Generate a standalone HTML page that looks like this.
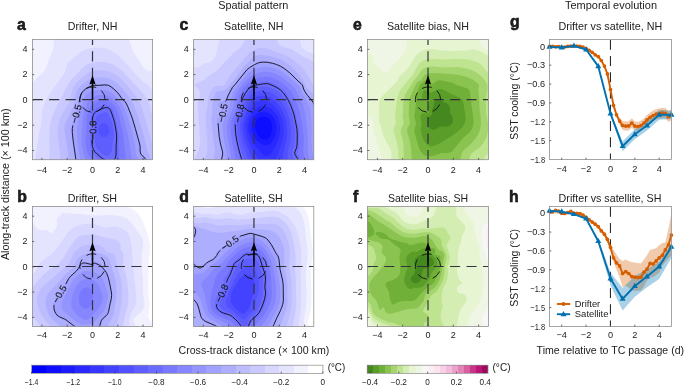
<!DOCTYPE html>
<html lang="en"><head><meta charset="utf-8"><title>SST cooling: spatial pattern and temporal evolution</title>
<style>html,body{margin:0;padding:0;background:#fff}svg{display:block}text{font-family:'Liberation Sans', sans-serif;fill:#222}</style></head>
<body><svg width="685" height="385" viewBox="0 0 685 385">
<rect width="685" height="385" fill="#fff"/>
<g id="panel-a">
<clipPath id="clip_a"><rect x="32.4" y="39.5" width="120.2" height="120.2"/></clipPath>
<g clip-path="url(#clip_a)">
<rect x="32.4" y="39.5" width="120.2" height="120.2" fill="#f2f2ff"/>
<path d="M31.1,161L153.9,161L153.9,70.9L152.6,70.5L148.7,70.8L147.4,70.6L146.1,69.9L145.3,69.2L143.5,67.2L135.8,55.7L133.8,52.5L132,48.6L129.8,42.1L128.2,38.2L54.8,38.2L53.9,40.8L53.1,48.6L52.5,51.2L51.5,53.7L49.1,58.9L46.6,66.3L45.4,69.2L44.4,70.5L42.8,72.4L36.3,78.4L31.1,84.6Z" fill="#e4e4ff"/>
<path d="M34.9,161L153.9,161L153.9,91.4L150,87.1L140.9,79.5L137.1,75.8L126.7,63.9L121.6,58.4L116.4,53.9L112.5,51.4L109.9,50.1L106.1,48.7L102.2,47.9L98.3,47.6L93.1,47.8L89.3,48.4L85.4,49.4L82.8,50.7L80.2,52.3L75,56.3L71.2,59.8L68.4,62.8L67.5,64.1L67,65.4L65.6,70.5L64.6,73.1L62,77L52.3,89.9L49.6,93.8L47.3,97.7L44.7,102.8L43.3,106.7L42.1,111.9L41.6,115.7L41,124.8L38.3,137.7Z" fill="#d7d7ff"/>
<path d="M49.3,161L153.9,161L153.9,123.4L151.1,110.6L149.3,104.1L147.6,100.2L146.1,97.7L144.4,95.1L141.2,91.2L125.4,74.2L121.6,70.5L119,68.4L115.1,65.7L112.5,64.4L108.6,62.9L104.8,62L102.2,61.8L98.3,61.9L95.7,62.3L89.3,63.8L86.7,64.8L84,66.7L81.5,69.1L77.8,73.1L73.8,77L70.5,80.9L67.2,86L62.9,95.1L59.8,100.2L56.5,106.7L53.5,113.2L51.3,119.6L50.2,124.8L49.6,131.2L49.5,137.7L49.7,151.9Z" fill="#c9c9ff"/>
<path d="M60.2,161L153.9,161L153.9,151.9L150.5,137.7L144.4,115.7L142.4,109.3L140.4,104.1L138.5,100.2L136.9,97.7L134.1,93.8L130.9,89.9L125.3,83.5L121.6,79.6L118.7,77L115.1,74.4L112.5,72.9L109.9,71.8L107.4,71L104.8,70.5L102.2,70.3L98.3,70.2L93.1,71L89.3,72.5L86.7,74L84.1,75.9L80.2,79.2L77.6,81.7L76.1,83.5L74.2,86L72.8,88.6L71.8,91.2L69.9,100.6L67.3,105.8L62.8,113.2L60.7,117L59.2,120.9L58.6,123.5L57.8,128.7L57.8,132.5L58.2,137.7L59.8,150.6L60.1,155.8Z" fill="#bcbcff"/>
<path d="M68.6,159.7L68.6,161L151.4,161L150,156.7L148,151.9L147.1,149.3L144.8,139L138.6,118.3L135.4,109.3L132.7,102.8L131.2,100.2L129.5,97.7L120.9,87.3L116.4,82.8L112.5,80L108.6,78.4L104.8,77.6L98.3,77.4L95.7,77.6L93.1,78.1L89.3,79.5L86.7,80.9L84.1,82.7L81.7,84.7L80.2,86.2L78.9,87.8L77.6,89.9L76,93.8L74.2,102.8L72.6,108L69.9,114.1L65.7,122.2L64.7,124.7L64.5,126.1L64.5,128.7L64.9,132.5L67.6,149.3Z" fill="#aeaeff"/>
<path d="M75.3,161L147.1,161L146.1,158.3L144.8,156.8L142.3,154.5L141.5,153.2L141.1,151.9L140.9,146.7L140.5,144.2L136.2,128.7L132.6,117L128.6,106.7L127.4,104.1L125.4,101L124.1,99.7L122.9,98.7L119.4,93.8L117.2,91.2L112.5,86.9L111.2,85.9L109.1,84.7L107.4,84.2L104.8,84L94.4,84.5L90.6,85.4L88,86.5L84.7,88.6L82.2,91.2L80.6,93.8L79.4,97.7L77.4,108L72.4,123.5L71.7,126.1L71.4,128.7L71.5,132.5L72.3,140.3Z" fill="#a1a1ff"/>
<path d="M80.8,161L139.8,161L137.2,157.1L136.1,154.5L135.6,151.9L135.2,146.7L134.6,142.9L132.2,132.5L128.2,118.3L125.9,111.9L124.3,108L122,104.1L115.1,95.7L113.8,94.4L111.2,92.4L108.6,90.9L107.4,90.4L104.8,89.9L100.9,89.8L95.7,90.2L91.9,91.1L89.3,92.3L86.7,94.2L85,96.4L83.8,99L82.6,102.8L79.1,117L77.6,124.8L77,130L77.1,137.7L77.8,145.5L79,153.2Z" fill="#9494ff"/>
<path d="M86.1,161L132.5,161L130.9,154.5L129.1,141.6L127.4,132.5L124.2,119.6L121.7,111.9L120.6,109.3L119.2,106.7L117.4,104.1L115.1,101.3L113.8,99.9L111.2,97.8L109.9,97L107.4,95.8L104.8,95.1L100.9,94.9L97,95.5L94.4,96.3L93.1,96.9L90.6,98.6L89.3,99.9L88.1,101.5L86.7,104.2L85.2,108L83.5,114.5L82.5,120.9L81.7,131.2L81.6,139L82,145.5L82.8,150.6L84.1,155.5Z" fill="#8686ff"/>
<path d="M91.4,159.7L92.3,161L125.8,161L125.5,155.8L123.2,135.1L120.6,122.2L118.5,114.5L116.6,109.3L115.1,106.7L113.8,105L112.5,103.7L109.9,101.7L108.6,101.1L106.1,100.3L103.5,100L99.6,100.5L97,101.3L94.4,102.8L91.9,105.1L89.7,108L88.4,110.6L87.2,114.5L86.8,117L86.4,120.9L86.4,128.7L85.7,139L85.9,144.2L86.4,148L87.4,151.9L89.3,156.1Z" fill="#7979ff"/>
<path d="M99.5,159.7L101,161L118.2,161L118.7,159.7L119.1,157.1L119.2,153.2L118.8,146.7L118.8,139L118.6,135.1L116.9,124.8L115.7,119.6L113.4,111.9L112.3,109.3L111.5,108L109.9,106.5L108.6,105.7L106.1,105.2L103.5,105.4L100.9,106.2L97,108.1L94.4,109.9L93.1,111.1L91.9,113L91.3,114.5L90.7,117L90.5,120.9L90.9,130L90.2,136.4L90,140.3L90.1,144.2L90.4,146.7L91.6,150.6L93.1,153.2L94.4,154.7Z" fill="#6b6bff"/>
<path d="M103,154.5L104.8,155.5L106.1,155.7L107.4,155.6L108.6,155.2L109.8,154.5L110.7,153.2L111.6,150.6L113.5,139L113.8,135.1L113.7,132.5L112.9,126.1L111.2,120.4L108.6,114.7L107.5,113.2L106.1,112.3L104.8,112.1L103.5,112.4L100.9,113.4L98.8,114.5L97,115.9L96.3,117L95.7,118.3L95.2,120.9L95,123.5L95.2,130L94.8,133.8L94.7,137.7L95.1,141.6L95.7,145.4L96.8,148L97.7,149.3Z" fill="#5e5eff"/>
<path d="M101.8,136.4L102.2,136.7L103.5,137L104.8,136.9L106.1,136.5L107.4,135.5L108.6,133.8L109.4,131.2L109.5,130L109.2,128.7L108.6,127.1L107.4,125.1L106.1,123.9L104.8,123.2L103.5,122.9L102.2,123.2L100.9,123.9L100.2,124.8L99.6,125.6L98.9,127.4L98.2,130L98.5,131.2L99.6,134.2L100.9,135.8Z" fill="#5151ff"/>
</g>
<g clip-path="url(#clip_a)" fill="none">
<path d="M32.40,99.60H152.60" stroke="#33333b" stroke-width="1.2" stroke-dasharray="10.1 6.35" stroke-dashoffset="-0.30"/>
<path d="M92.50,159.70V39.50" stroke="#33333b" stroke-width="1.2" stroke-dasharray="10.1 6.35" stroke-dashoffset="0.40"/>
<path d="M105.15,99.60A12.65,12.65 0 1 0 79.85,99.60A12.65,12.65 0 1 0 105.15,99.60" stroke="#111" stroke-width="0.9" stroke-dasharray="10 6"/>
<path d="M76.1,161L73.1,140.3L72.3,132.5L72.3,128.7L72.7,126.1L72.8,125.4" stroke="#111" stroke-width="0.9" stroke-linejoin="round"/>
<path d="M79.1,102.3L79.7,99L80.7,95.1L81.3,93.8L82.1,92.5L84.1,90.2L86.7,88.1L89.3,86.8L91.9,85.9L94.4,85.4L99.6,85.3L104.8,84.9L107.4,85.1L108.6,85.4L111.2,86.9L113.8,89L117.7,92.8L119,94.4L121.6,98.2L122.9,99.7L124.1,100.6L125,101.5L126.6,104.1L127.8,106.7L131.4,115.7L133.1,120.9L135.4,128.7L139.7,144.2L140.1,146.7L140.1,150.6L140.5,153.2L141.1,154.5L145.2,158.4L146,159.7L146.4,161" stroke="#111" stroke-width="0.9" stroke-linejoin="round"/>
<path d="M108.1,161L106.1,160.3L103.5,159.1L102.2,158.4L96.3,153.2L94.4,151.2L93.3,149.3L92.5,146.7L92.1,144.2L92,141.6L92,140.1" stroke="#111" stroke-width="0.9" stroke-linejoin="round"/>
<path d="M92.4,120.2L92.4,119.6L92.7,117L93.5,114.5L94.4,113L95.7,111.9L97,111.2L102.2,108.6L104.8,107.7L106.1,107.6L107.4,107.7L108.6,108.1L110,109.3L111.2,111.8L113.4,118.3L114.5,122.2L115.3,126.1L116.5,133.8L116.6,139L116.1,146.7L116.1,153.2L115.9,155.8L115.1,158.4L114.2,159.7L113.8,160.1L112.1,161" stroke="#111" stroke-width="0.9" stroke-linejoin="round"/>
</g>
<path d="M92.50,99.90V80.56" stroke="#000" stroke-width="1.5" fill="none"/>
<path d="M92.50,75.27L95.60,84.47L92.50,83.16L89.40,84.47Z" fill="#000"/>
<rect x="32.40" y="39.50" width="120.20" height="120.20" fill="none" stroke="#8f8f8f" stroke-width="0.80"/>
<text x="41.90" y="172.50" font-size="9.00" text-anchor="middle">−4</text>
<text x="27.60" y="153.20" font-size="9.00" text-anchor="end">−4</text>
<text x="67.20" y="172.50" font-size="9.00" text-anchor="middle">−2</text>
<text x="27.60" y="127.90" font-size="9.00" text-anchor="end">−2</text>
<text x="92.50" y="172.50" font-size="9.00" text-anchor="middle">0</text>
<text x="27.60" y="102.60" font-size="9.00" text-anchor="end">0</text>
<text x="117.80" y="172.50" font-size="9.00" text-anchor="middle">2</text>
<text x="27.60" y="77.30" font-size="9.00" text-anchor="end">2</text>
<text x="143.10" y="172.50" font-size="9.00" text-anchor="middle">4</text>
<text x="27.60" y="52.00" font-size="9.00" text-anchor="end">4</text>
<path d="M41.90,159.70v-1.8M32.40,150.50h1.8M67.20,159.70v-1.8M32.40,125.20h1.8M92.50,159.70v-1.8M32.40,99.90h1.8M117.80,159.70v-1.8M32.40,74.60h1.8M143.10,159.70v-1.8M32.40,49.30h1.8" stroke="#444" stroke-width="0.8" fill="none"/>
<text x="67.80" y="30.10" font-size="10.70" textLength="49.70" lengthAdjust="spacingAndGlyphs">Drifter, NH</text>
<text x="17.00" y="29.80" font-size="15.8" font-weight="bold" fill="#000" stroke="#000" stroke-width="0.5">a</text>
</g>
<g id="panel-b">
<clipPath id="clip_b"><rect x="32.4" y="206.4" width="120.2" height="120.0"/></clipPath>
<g clip-path="url(#clip_b)">
<rect x="32.4" y="206.4" width="120.2" height="120.0" fill="#ffffff"/>
<path d="M31.1,327.9L153.6,327.9L152.6,323.6L151.3,321.4L149.3,318.8L148.7,317.5L148.4,316.2L148.4,314.9L149.4,309.8L149.7,304.6L149.5,300.7L148.5,294.3L148.3,291.7L148.5,276.2L148.4,265.9L150,249.1L150,245.2L149.7,242.6L147.3,233.6L142.5,220.6L140.3,216.8L137.2,212.9L135.8,211.3L133.2,209.4L130.6,208L126.7,206.3L123.3,205.1L94.3,205.1L88,205.5L81.5,205.1L31.1,205.1Z" fill="#f2f2ff"/>
<path d="M31.1,327.9L136.9,327.9L134.1,322.7L133.6,321.4L133.4,320.1L133.9,318.8L134.5,317.9L135.8,316.4L140.8,312.4L141.9,311.1L143.6,308.5L144.5,305.9L144.4,303.3L143.6,296.9L143,290.4L142.9,286.5L143.2,280.1L142.3,272.3L141.6,259.4L141.9,254.2L143.2,246.5L143.2,243.9L142.7,240L141.9,237.4L140.9,235.9L138.1,232.3L133.2,224.9L130.7,221.9L129.3,220.6L126.7,218.6L122.9,216.9L119,215.8L115.1,215.2L107.4,215L98.3,215.5L91.9,215.6L80.2,213.8L73.8,213.8L66,212.9L63.4,213.1L61.3,214.2L59.7,215.5L58.3,216.8L57.4,218.1L57,219.4L56.8,220.6L57,224.5L56.8,225.8L56.3,227.1L55.7,228.5L54.4,230.6L53.1,232.1L51.8,232.9L50.5,232.9L49.2,232.1L47.9,231L46.6,230.1L45.5,229.7L41.5,230.2L40.2,230L38.9,229.6L37.6,229L36.3,227.9L33,223.2L32.4,222.8L31.1,222.5Z" fill="#e4e4ff"/>
<path d="M31.1,327.9L129.7,327.9L129,322.7L129.2,320.1L129.7,317.5L131.1,313.6L134.7,307.2L135.8,304.6L136.4,302L136.4,299.4L135.3,286.5L134.5,280.1L132.9,263.3L131.6,246.5L129.9,237.4L128.8,234.9L128,233.6L126.8,232.3L124.1,230.1L121.6,228.6L119,227.4L116.4,226.6L113.8,226.4L107.4,227.4L104.8,227.4L94.4,224.3L90.6,223.8L85.4,223.9L81.5,224.4L75.1,226.5L72.5,228L69.9,230.2L67.3,233.3L62.1,241L54.2,251.6L51.4,254.2L45.4,258.2L42.8,260.2L40.2,262.7L38,265.9L36.3,269.7L35,271.9L33.7,273.6L31.1,276.5Z" fill="#d7d7ff"/>
<path d="M40.6,326.6L41.7,327.9L122.9,327.9L123.2,324L123.7,321.4L125.2,314.9L127.4,307.2L128.1,303.3L128.4,298.1L128.1,290.4L127.5,283.9L126.5,277.5L125.5,273.6L123.8,268.4L123.2,265.9L123.6,256.8L123.5,254.2L122.9,252.4L120.9,250.4L120.6,249.1L120.6,245.2L120.3,244.2L119.2,242.6L117.9,241.3L116,240L113.8,239.1L106.1,237.7L97,235.3L93.1,234.6L90.6,234.5L81.5,235.4L78.9,236L74.1,241.3L69.4,247.8L67.7,250.4L63.4,258L60.9,261.5L59.1,263.3L55.9,265.9L49.2,270.1L45.4,273L42.8,275.5L38.9,279.7L34.1,285.2L31.1,289.5L31.1,313.6L34.5,318.8Z" fill="#c9c9ff"/>
<path d="M50.9,326.6L52.2,327.9L115.6,327.9L119,316.2L120.9,307.2L121.6,302L121.9,296.9L121.8,286.5L121.6,282.6L121.2,280.1L120.1,276.2L117.1,267.1L116.2,260.7L115.6,258.1L114.4,255.5L113.4,254.2L112.5,253.5L111.2,253L107.4,252.6L106,251.6L103.5,248.1L102.2,246.9L99.6,245.6L97,244.9L93.1,244.5L89.3,244.7L84.1,245.6L81.1,246.5L79.9,247.8L76.4,250.4L73.8,252.9L72.4,255.5L69.7,262L68.6,263.9L67,265.9L48.5,281.4L44.4,285.2L42,287.8L39.3,291.7L37.7,295.6L37.1,299.4L37.1,302L37.5,304.6L38.1,307.2L39.1,309.8L42.4,316.2L45.4,320.5Z" fill="#bcbcff"/>
<path d="M61.6,326.6L63.5,327.9L107.4,327.9L109.3,322.7L112.4,317.5L113.8,313.6L114.5,308.5L116.2,299.4L116.4,296.9L116.4,289.1L116.1,283.9L115.6,280.1L114.5,276.2L111.5,267.1L110.1,262L109.1,259.4L108.3,258.1L106.1,256L104.8,255.3L99.6,253.4L97,252.8L94.4,252.6L90.6,252.9L86.7,253.7L82.8,254.9L80.2,256.3L78.9,257.2L77.1,259.4L75.7,262L74.2,265.9L73.3,267.1L72.1,268.4L67.3,272.4L64.6,274.9L58.3,282.4L49.6,291.7L47.7,294.3L46.6,296.5L46.1,298.1L45.7,300.7L45.7,303.3L46,305.9L46.6,308.5L48.3,313.6L50.5,317.5L53.1,320.4L57,323.5Z" fill="#aeaeff"/>
<path d="M73.3,326.6L75.3,327.9L99.5,327.9L100.4,326.6L100.9,325.5L102,321.4L102.7,320.1L107.4,315.5L108.6,313.5L109.4,311.1L110.8,303.3L111.8,299.4L112.2,295.6L112.1,293L110.3,282.6L108.6,276L107.4,272.7L106.1,270.4L102.2,264.9L100.4,263.3L98,262L95.7,261.4L94.4,261.4L90.6,262.4L89.3,262.4L85.4,261.8L84.1,261.8L82.8,262L81.5,262.7L80.8,263.3L79.7,264.6L77.6,268.4L76.4,270.1L75.1,271.5L69.8,276.2L67.7,278.8L64.7,284.5L56.4,296.9L54.9,299.4L53.8,302L53.1,304.4L52.9,305.9L53,308.5L53.6,311.1L54.1,312.4L55.7,314.9L57,316.3L58.3,317.2L64.6,320.1L66,321Z" fill="#a1a1ff"/>
<path d="M80.5,324L82.8,324.6L84.1,324.7L86.7,324.6L90.6,323.9L91.9,323.5L93.1,322.9L94.4,321.9L95.7,320.5L99.1,316.2L102.7,312.4L103.7,311.1L104.8,309.1L105.5,307.2L107.9,299.4L108,295.6L107.4,292.1L104.8,283.6L102.6,278.8L100.9,276.4L98.3,274.2L95.7,272.8L91.9,271.7L86.7,271L84.1,271.3L82.8,271.8L78.9,274.6L74.3,278.8L72.5,281.1L71.2,283.4L63.3,299.4L62.1,302L61.8,303.3L61.5,305.9L61.6,307.2L61.9,308.5L62.5,309.8L63.5,311.1L75.1,320.8L77.6,322.6Z" fill="#9494ff"/>
<path d="M82.3,318.8L84.1,319.5L85.4,319.8L86.7,319.8L89,318.8L90.7,317.5L94.4,313.6L97.6,309.8L99.4,307.2L100.9,304.6L102.1,302L102.8,299.4L102.8,296.9L101.9,293L100.4,289.1L98.3,285.1L96.4,282.6L94.4,281L91.9,279.6L89.3,278.9L86.7,278.7L84.1,279.2L81.5,280.4L78.8,282.6L76.4,285.7L74.5,289.1L73,293L71.7,298.1L71.1,302L71.1,304.6L71.7,307.2L72.2,308.5L73.8,311.1L77.2,314.9L80.2,317.5Z" fill="#8686ff"/>
<path d="M84.4,308.5L85.4,308.6L86.7,308.5L88,308L89.3,307.1L90.6,305.8L91.9,303.9L92.6,302L92.9,300.7L92.9,294.3L92.3,291.7L91.6,290.4L90.6,289.1L88.7,287.8L86.7,287.3L85.4,287.4L84.1,287.9L82.8,288.9L81.5,290.2L80,293L79.5,294.3L79,296.9L79,300.7L79.6,303.3L80.1,304.6L80.9,305.9L82.1,307.2L82.8,307.8Z" fill="#7979ff"/>
</g>
<g clip-path="url(#clip_b)" fill="none">
<path d="M32.40,266.50H152.60" stroke="#33333b" stroke-width="1.2" stroke-dasharray="10.1 6.35" stroke-dashoffset="-0.30"/>
<path d="M92.50,326.40V206.40" stroke="#33333b" stroke-width="1.2" stroke-dasharray="10.1 6.35" stroke-dashoffset="0.40"/>
<path d="M105.15,266.50A12.65,12.65 0 1 0 79.85,266.50A12.65,12.65 0 1 0 105.15,266.50" stroke="#111" stroke-width="0.9" stroke-dasharray="10 6"/>
<path d="M77.2,327.9L73.8,325.8L66,319.9L64.7,319.1L59.6,316.9L58.3,316.1L57,315L55.7,313.3L54.6,311.1L54,308.5L53.9,305.9L54.2,304.8" stroke="#111" stroke-width="0.9" stroke-linejoin="round"/>
<path d="M65.9,284L68.5,278.8L70.7,276.2L76.4,271L78.4,268.4L80.2,265.1L80.7,264.6L81.5,263.8L82.8,263.1L84.1,262.9L85.4,263L90.6,264.3L91.9,264.4L94.4,263.2L95.7,263.4L99.6,265.2L100.9,266.1L102.2,267.4L104.8,270.4L106.1,272.3L106.8,273.6L107.8,276.2L108.6,278.8L109.8,283.9L111.5,293L111.6,295.6L111.2,299.4L110.2,303.3L108.6,311.3L108.3,312.4L107.4,314.3L106.1,315.7L102.6,318.8L101.6,320.1L101,321.4L99.9,325.3L99.6,325.9L99.1,326.6L97.7,327.9" stroke="#111" stroke-width="0.9" stroke-linejoin="round"/>
</g>
<path d="M92.50,266.80V247.47" stroke="#000" stroke-width="1.5" fill="none"/>
<path d="M92.50,242.16L95.60,251.37L92.50,250.06L89.40,251.37Z" fill="#000"/>
<rect x="32.40" y="206.40" width="120.20" height="120.00" fill="none" stroke="#8f8f8f" stroke-width="0.80"/>
<text x="41.90" y="338.30" font-size="9.00" text-anchor="middle">−4</text>
<text x="27.60" y="320.10" font-size="9.00" text-anchor="end">−4</text>
<text x="67.20" y="338.30" font-size="9.00" text-anchor="middle">−2</text>
<text x="27.60" y="294.80" font-size="9.00" text-anchor="end">−2</text>
<text x="92.50" y="338.30" font-size="9.00" text-anchor="middle">0</text>
<text x="27.60" y="269.50" font-size="9.00" text-anchor="end">0</text>
<text x="117.80" y="338.30" font-size="9.00" text-anchor="middle">2</text>
<text x="27.60" y="244.20" font-size="9.00" text-anchor="end">2</text>
<text x="143.10" y="338.30" font-size="9.00" text-anchor="middle">4</text>
<text x="27.60" y="218.90" font-size="9.00" text-anchor="end">4</text>
<path d="M41.90,326.40v-1.8M32.40,317.40h1.8M67.20,326.40v-1.8M32.40,292.10h1.8M92.50,326.40v-1.8M32.40,266.80h1.8M117.80,326.40v-1.8M32.40,241.50h1.8M143.10,326.40v-1.8M32.40,216.20h1.8" stroke="#444" stroke-width="0.8" fill="none"/>
<text x="67.80" y="202.00" font-size="10.70" textLength="49.30" lengthAdjust="spacingAndGlyphs">Drifter, SH</text>
<text x="17.20" y="201.60" font-size="15.8" font-weight="bold" fill="#000" stroke="#000" stroke-width="0.5">b</text>
</g>
<g id="panel-c">
<clipPath id="clip_c"><rect x="193.6" y="39.5" width="120.2" height="120.2"/></clipPath>
<g clip-path="url(#clip_c)">
<rect x="193.6" y="39.5" width="120.2" height="120.2" fill="#e4e4ff"/>
<path d="M192.6,161L315.3,161L315.3,54.8L308.8,52.2L304.8,49.9L302.4,48.1L301.7,47.3L301.1,46L300.2,40.8L299.6,39.5L298.8,38.2L219.5,38.2L217.9,47.3L216.3,53.7L215.3,56.3L214.6,57.6L212.6,60.2L211,61.5L209.4,62.4L206.8,63.1L204.2,63.4L202.9,64L199.1,67.1L197.8,67.5L196.5,67.5L195.2,67.2L193.9,66.5L192.6,64.9ZM192.6,58.9L192.6,59.8L192.9,58.9L195.2,55.2L195.4,53.7L195,49.9L192.6,40.7Z" fill="#d7d7ff"/>
<path d="M193.6,161L315.3,161L315.2,64.1L314.2,62.8L312.7,61.5L307.6,58.6L301.1,55.5L298.3,53.7L293.3,50.1L290.8,49L284.3,47.5L280.9,46L279.5,44.7L277.2,40.8L276.6,40.1L274.2,38.2L247.4,38.2L245.7,39.5L244.6,40.8L242.7,44.7L241.7,46.2L239.1,48.7L234.2,52.5L232.8,53.7L229.2,57.6L223.6,62.9L219.7,67.8L217.1,70.5L214.6,72.3L209.4,75.4L204.2,79.7L201.6,81.1L195.8,83.5L195.2,84L194.7,84.7L194.9,86L197.8,88.4L199.1,90L199.6,91.2L200,93.8L199.7,97.7L197.8,104.1L197.7,105.4L198.3,111.9L198.3,118.3L199.7,132.5L200,140.3L199.6,145.5L198.7,149.3L197.3,153.2Z" fill="#c9c9ff"/>
<path d="M204.5,161L315.3,161L315.3,86.9L313.2,84.7L304.5,70.5L302.6,68L301.4,66.7L298.5,64.2L290.8,58.3L288.2,56.7L285.6,55.5L277.7,52.5L270.1,49.3L267.5,48.4L264.9,47.9L262.3,47.7L258.5,48.1L255.9,49L252,50.9L250.7,51.8L248.6,53.7L241.7,61.4L237.8,66.4L230.1,75.2L226.2,82.2L224.9,84.2L223.6,85.5L222.3,85.9L217.1,85.7L214.6,86.5L213.3,87.4L212.1,88.6L211.4,89.9L209.4,93.8L208.5,96.4L207.9,100.2L207.6,105.4L206.1,113.2L205.7,119.6L205.8,123.5L207.2,139L207.6,146.7L207.3,150.6L206.8,153.2L205.8,157.1Z" fill="#bcbcff"/>
<path d="M213.2,161L315.3,161L315.3,95.6L307.6,88.7L306.3,87.2L305.6,86L304.4,82.2L303.7,80.9L298.5,74.2L294.6,69.9L288.2,64.1L284.3,61.5L280.4,59.6L274,57.3L268.8,55.9L264.9,55.2L261.1,55.1L257.2,55.6L254.9,56.3L253.3,57.3L252,58.4L244.3,66.1L238.1,74.4L234.5,79.6L230.7,83.5L227.5,87.7L226.2,89L224.9,90L223.6,90.6L222.3,90.8L218.4,90.9L217.1,91.1L215.8,92.5L214.6,95.4L213.2,100.2L212.8,102.8L212.3,110.6L211.4,118.3L211.4,120.9L211.7,124.8L214.9,150.6L214.8,154.5Z" fill="#aeaeff"/>
<path d="M220.1,161L315.3,161L315.3,105.3L314.3,102.8L313.5,101.5L307.6,94.6L305,90.9L303.9,88.6L303.1,86L302.4,84.4L301.1,83L298.5,80.7L292.1,74.1L288.2,70.7L284.3,67.7L281.7,66.1L277.8,64.2L274,62.9L268.8,61.7L264.9,61.3L261.1,61.4L258.5,61.9L255.9,63L249.4,66.9L246.6,69.2L235.2,83.7L232.9,86L231.9,87.3L224.9,99.7L223.6,100.9L219.7,102.5L218.4,103.6L218.2,104.1L218,105.4L218.4,106.3L221,108.7L221.3,109.3L221.6,110.6L221.6,111.9L221,113.8L220.5,114.5L218.4,116.2L217.9,117L217.4,118.3L217.2,119.6L217.3,123.5L218.7,137.7L219.6,142.9L221.5,150.6L221.9,153.2L221.5,155.8Z" fill="#a1a1ff"/>
<path d="M226.1,161L315.1,161L312.9,154.5L312.1,150.6L311.6,140.3L311.7,131.2L311.3,117L310.6,110.6L309.6,106.7L307.8,102.8L303.2,95.1L301.9,92.5L300,87.3L299,86L288.2,76.5L284.3,73.5L281.7,71.7L279.1,70.3L275.3,68.6L271.4,67.5L268.8,67L264.9,66.7L262.3,66.9L259.8,67.4L255.9,68.7L251.9,70.5L249.4,72.2L248.1,73.4L244.3,77.5L240.3,82.2L234.5,89.9L233.2,92.5L231.9,96.4L228.7,109.3L226.8,114.5L223.7,120.9L223.3,122.2L222.8,124.8L222.7,130L223.3,136.4L224.2,141.6L226.3,150.6L226.7,153.2L226.7,155.8Z" fill="#9494ff"/>
<path d="M231.2,161L310.1,161L308.3,154.5L307.8,150.6L307.8,136.4L307.2,128.7L306.1,118.3L305.1,111.9L303.6,106.7L297.2,92.1L296,89.9L295,88.6L292.6,86L286.9,81L283,78.1L279.1,75.6L276.6,74.3L273.6,73.1L270.1,72.2L267.5,71.9L264.9,71.8L262.3,72L259.8,72.5L255.9,73.7L253.3,74.8L250.7,76.3L246.8,79.5L244.3,82.1L242.1,84.7L239.3,88.6L237.7,91.2L236.4,93.8L235.5,96.4L233.3,106.7L232.6,109.3L229.4,117L228,120.9L227.4,123.5L227,126.1L227,130L227.4,135.1L228.2,140.3L230.6,151.9L231,155.8Z" fill="#8686ff"/>
<path d="M235.8,161L305.4,161L303.8,154.5L303.4,151.9L303.4,148L304,139L302.9,128.7L300.4,114.5L299.5,110.6L297.7,105.4L295.7,100.2L293.3,95.3L291.7,92.5L289.8,89.9L286.9,86.9L283,83.6L279.1,81L275.3,78.9L272.7,77.8L270.1,77.1L267.5,76.7L264.9,76.7L259.8,77.4L255.9,78.5L253.3,79.5L249.4,81.7L246,84.7L243,88.6L241.3,91.2L239.9,93.8L238.8,96.4L238.1,99L236,109.3L235.1,111.9L232,118.3L231.3,120.9L230.7,124.8L230.7,130L231.3,136.4L232.2,141.6L235.1,155.8Z" fill="#7979ff"/>
<path d="M240.2,161L300.6,161L299.9,158.4L298.2,154.5L297.8,153.2L297.8,151.9L298.9,146.7L299.3,141.6L299.2,135.1L298.6,128.7L295.8,114.5L294.6,110.6L293.2,106.7L291.7,102.8L289.5,98.4L286.6,93.8L284.3,91L281.7,88.5L279.1,86.5L275.3,84.3L270.6,82.2L267.5,81.5L263.6,81.7L254.6,83.4L251.2,84.7L249.4,86L248.1,87.2L245.9,89.9L243.4,93.8L241.6,97.7L240.8,100.2L238.8,110.6L237.9,113.2L235,118.3L234.2,120.9L234,123.5L234.1,131.2L234.9,137.7L237,148L239.4,157.1Z" fill="#6b6bff"/>
<path d="M244.1,159.7L244.4,161L294.5,161L292.4,155.8L292,153.2L292.4,150.6L293.7,146.7L294.2,144.2L294.8,136.4L294.8,131.2L294.4,127.4L293.2,120.9L291.2,113.2L289.3,108L286.9,102.8L284.3,98.6L281.7,95.1L279.1,92.5L276.6,90.6L274,89.2L270.1,87.6L267.5,86.8L266.2,86.6L263.6,86.6L255.9,87.5L253.3,88.2L252,88.8L250.7,89.8L248.3,92.5L245.7,96.4L244.3,99.4L243.6,101.5L241.7,110.6L240.9,113.2L237.6,119.6L237,122.2L236.9,124.8L237.3,132.5L238.6,140.3L240.5,148Z" fill="#5e5eff"/>
<path d="M248.6,161L288.1,161L287.7,157.1L287.7,153.2L288,150.6L290.2,141.6L290.8,136.4L290.9,132.5L290.8,128.7L290.3,124.8L289.3,119.6L288.2,115.7L286.3,110.6L284.3,106.4L281.7,102.2L279.2,99L276.6,96.4L274,94.5L271.4,93.1L267.5,91.8L264.9,91.3L262.3,91.1L259.8,91.2L257.2,91.6L254.6,92.4L253.3,93.1L250.7,95.3L249.4,96.9L248.2,99L247,101.5L243.5,113.2L240.4,120.9L239.9,123.5L239.8,127.4L240.1,131.2L240.9,136.4L243.2,145.5Z" fill="#5151ff"/>
<path d="M253.2,161L282.3,161L283.5,151.9L286.6,139L287.1,135.1L287.3,131.2L286.8,124.8L286.1,120.9L285,117L283.6,113.2L282.3,110.6L280.9,108L279.1,105.4L276.6,102.3L274.2,100.2L272.7,99.1L270.1,97.6L267.5,96.6L264.9,96L261.1,95.7L258.5,96L257.2,96.3L254.6,97.5L253.3,98.5L252,99.9L250.7,101.9L249.4,104.5L244.2,118.3L243.1,122.2L242.7,124.8L242.7,128.7L243.1,132.5L244.2,137.7L246.8,145.8Z" fill="#4343ff"/>
<path d="M258.1,159.7L259,161L275.4,161L277,157.1L281.7,142.6L282.9,137.7L283.5,133.8L283.7,128.7L283.3,124.8L282.9,122.2L281.4,117L280.3,114.5L278.9,111.9L277.2,109.3L275.3,107L272,104.1L270.1,102.9L267.5,101.6L263.6,100.7L261.1,100.6L259.8,100.8L257.2,101.7L255.5,102.8L253.3,105.3L250.7,109.8L248.1,115.7L246.2,120.9L245.5,124.8L245.4,127.4L245.8,131.2L246.6,135.1L247.8,139L250.7,145.7Z" fill="#3636ff"/>
<path d="M264.9,155.8L266.2,156.1L267.5,155.9L268.8,155.3L270.1,154.2L272.7,151L275.3,146.7L277.6,141.6L279.1,137L279.9,132.5L280.1,127.4L279.4,122.2L278.1,118.3L276.6,115.1L274.2,111.9L271.4,109.2L268.8,107.5L266.9,106.7L264.9,106.1L262.3,106L259.8,106.4L257.2,107.8L255.5,109.3L253.3,112L251.2,115.7L249.5,119.6L248.6,123.5L248.3,127.4L248.5,130L249.4,134L250.8,137.7L252.8,141.6L255.9,146.3L259.8,151.2L262.3,153.9L263.6,155Z" fill="#2828ff"/>
<path d="M261.9,144.2L263.6,144.9L264.9,145.2L266.2,145.2L267.5,145L268.8,144.5L270.1,143.7L271.4,142.6L273.1,140.3L275,136.4L275.8,133.8L276.3,130L276.3,126.1L275.9,123.5L274.6,119.6L273.2,117L271.4,114.9L268.8,113L266.2,111.9L263.6,111.4L261.1,111.7L258.5,112.7L257.2,113.6L255.1,115.7L253.4,118.3L252.3,120.9L251.7,123.5L251.4,126.1L251.5,128.7L252,131.2L253.3,134.8L254.6,137.3L255.9,139.3L257.2,140.8L259.8,142.9Z" fill="#1b1bff"/>
<path d="M262.5,139L264.9,139.5L266.2,139.4L267.5,138.9L268.8,137.9L269.9,136.4L271.1,133.8L271.9,130L272,127.4L271.8,124.8L271.4,123L270.5,120.9L269.7,119.6L268.4,118.3L266.2,117.1L264.9,116.8L262.3,116.8L261.1,116.9L259.8,117.4L258.5,118.2L257.2,119.4L256.3,120.9L255.8,122.2L255.2,124.8L255.1,127.4L255.3,128.7L256,131.2L257.1,133.8L258.6,136.4L259.8,137.7L261.1,138.5Z" fill="#0d0dff"/>
</g>
<g clip-path="url(#clip_c)" fill="none">
<path d="M193.60,99.60H313.80" stroke="#33333b" stroke-width="1.2" stroke-dasharray="10.1 6.35" stroke-dashoffset="-0.30"/>
<path d="M253.95,159.70V39.50" stroke="#33333b" stroke-width="1.2" stroke-dasharray="10.1 6.35" stroke-dashoffset="0.40"/>
<path d="M266.60,99.60A12.65,12.65 0 1 0 241.30,99.60A12.65,12.65 0 1 0 266.60,99.60" stroke="#111" stroke-width="0.9" stroke-dasharray="10 6"/>
<path d="M221.1,161L222.4,155.8L222.7,153.2L222.3,150.6L221.2,146.7L220.3,142.9L219.2,136.4L218.7,131.2L218.1,123.5L218.1,123.2" stroke="#111" stroke-width="0.9" stroke-linejoin="round"/>
<path d="M225.6,101.5L226.2,100.5L228.3,95.1L232.5,87.3L235.2,84.4L246.8,69.8L249.4,67.7L254.6,64.6L257.2,63.3L258.5,62.8L261.1,62.3L263.6,62.1L267.5,62.3L272.7,63.3L276.6,64.5L280.4,66.2L284.3,68.5L286.9,70.5L290.8,73.8L297.9,80.9L301.1,83.6L302.1,84.7L302.8,86L303.7,89.2L305,91.8L307.6,95.5L311.6,100.2L313.4,102.8L314.5,105.4L315.3,108.6" stroke="#111" stroke-width="0.9" stroke-linejoin="round"/>
<path d="M242,161L241.4,158.4L239.1,150.6L238.2,146.7L237,141.6L235.9,135.1L235.5,131.2L235.2,124.8L235.2,124.4" stroke="#111" stroke-width="0.9" stroke-linejoin="round"/>
<path d="M241.9,101.6L242.1,100.2L243,97.7L245,93.8L248.1,89.4L249.4,88L250.7,86.9L252,86.1L253.3,85.6L255.9,85L259.8,84.5L262.3,84L266.2,83.6L268.8,83.9L274,86.1L277.8,88.1L280.4,90L283,92.5L285.6,95.9L288.3,100.2L290.7,105.4L292.7,110.6L293.9,114.5L295.1,119.6L296.9,128.7L297.3,135.1L297.1,144.2L296.8,146.7L296.5,148L294.9,151.9L294.7,153.2L295.1,154.5L295.8,155.8L297.5,158.4L298.3,161" stroke="#111" stroke-width="0.9" stroke-linejoin="round"/>
</g>
<path d="M253.95,99.90V80.56" stroke="#000" stroke-width="1.5" fill="none"/>
<path d="M253.95,75.27L257.05,84.47L253.95,83.16L250.85,84.47Z" fill="#000"/>
<rect x="193.60" y="39.50" width="120.20" height="120.20" fill="none" stroke="#8f8f8f" stroke-width="0.80"/>
<text x="203.35" y="172.50" font-size="9.00" text-anchor="middle">−4</text>
<text x="188.80" y="153.20" font-size="9.00" text-anchor="end">−4</text>
<text x="228.65" y="172.50" font-size="9.00" text-anchor="middle">−2</text>
<text x="188.80" y="127.90" font-size="9.00" text-anchor="end">−2</text>
<text x="253.95" y="172.50" font-size="9.00" text-anchor="middle">0</text>
<text x="188.80" y="102.60" font-size="9.00" text-anchor="end">0</text>
<text x="279.25" y="172.50" font-size="9.00" text-anchor="middle">2</text>
<text x="188.80" y="77.30" font-size="9.00" text-anchor="end">2</text>
<text x="304.55" y="172.50" font-size="9.00" text-anchor="middle">4</text>
<text x="188.80" y="52.00" font-size="9.00" text-anchor="end">4</text>
<path d="M203.35,159.70v-1.8M193.60,150.50h1.8M228.65,159.70v-1.8M193.60,125.20h1.8M253.95,159.70v-1.8M193.60,99.90h1.8M279.25,159.70v-1.8M193.60,74.60h1.8M304.55,159.70v-1.8M193.60,49.30h1.8" stroke="#444" stroke-width="0.8" fill="none"/>
<text x="224.10" y="30.10" font-size="10.70" textLength="59.40" lengthAdjust="spacingAndGlyphs">Satellite, NH</text>
<text x="179.40" y="29.80" font-size="15.8" font-weight="bold" fill="#000" stroke="#000" stroke-width="0.5">c</text>
</g>
<g id="panel-d">
<clipPath id="clip_d"><rect x="193.6" y="206.4" width="120.2" height="120.0"/></clipPath>
<g clip-path="url(#clip_d)">
<rect x="193.6" y="206.4" width="120.2" height="120.0" fill="#ffffff"/>
<path d="M192.6,327.9L308.7,327.9L307.9,322.7L308,321.4L310.6,311.1L311.1,307.2L311.5,302L311.6,294.3L310.9,277.5L310.9,268.4L311.1,265.9L312.6,256.8L312.8,251.6L312.5,247.8L311.6,242.6L310.3,229.7L309.5,224.5L307.7,215.5L306.1,211.6L305.3,210.3L302.4,206.8L301.4,205.1L192.6,205.1Z" fill="#f2f2ff"/>
<path d="M192.6,327.9L303.6,327.9L304,324L304.1,318.8L305.5,311.1L306.2,303.3L306.6,294.3L305.9,282.6L305.8,274.9L306,271L307.8,254.2L307.8,251.6L305.7,237.4L305.2,229.7L303.8,220.6L301.2,214.2L300.5,212.9L299.4,211.6L295.9,208.1L294.6,207.1L293.3,206.4L289.2,205.1L217.5,205.1L215.5,206.4L213.3,207.4L210.7,207.9L208.1,208L205.5,207.9L202.9,207.2L201.2,206.4L199.3,205.1L192.6,205.1Z" fill="#e4e4ff"/>
<path d="M192.6,327.9L298.1,327.9L299,322.7L300.6,309.8L301,304.6L301.1,299.4L300.7,274.9L300.9,267.1L301.7,256.8L301.5,251.6L299.6,241.3L297.8,233.6L297,231L294,224.5L293.2,223.2L287.6,216.8L285.6,215.3L280.4,212.4L277.8,211.2L275.3,210.7L272.7,210.6L267.5,211.3L254.6,212.4L250.7,212.5L248.1,213.1L244.3,214.4L241.7,215L239.1,214.8L235.3,214.2L228.8,212.6L226.2,212.5L223.6,212.9L219.7,214.3L217.1,214.9L209.4,213.8L204.2,213.7L197.8,213.1L195.2,212.2L193.9,211.4L192.6,210.3Z" fill="#d7d7ff"/>
<path d="M192.6,327.9L292.2,327.9L293.3,323.4L294.6,316.4L295.7,309.8L296.2,304.6L295.9,282.6L295.2,269.7L295.5,256.8L295.4,252.9L294,243.9L291.8,234.9L290.8,231.4L290,229.7L288.2,226.6L285.8,223.2L284.3,221.7L281.7,219.8L278.8,218.1L276.6,217.2L274,216.8L268.8,216.8L259.8,218.1L253.3,218.5L245.6,219.3L239.1,219.7L235.2,219.4L230.1,218.3L228.8,218.2L221,219L214.6,218.9L212,218.5L205.5,217.1L204.2,217L200.3,217.9L197.8,218.2L195.2,217.8L192.6,216.5Z" fill="#c9c9ff"/>
<path d="M192.6,327.9L285.9,327.9L288.2,320.4L290.3,312.4L291.3,307.2L291.7,303.3L291.4,281.4L290.7,276.2L289.2,268.4L289,265.9L289.8,256.8L289.9,251.6L289.5,247.8L288.7,243.9L287.7,240L286.4,236.1L285.2,233.6L283.7,231L281.9,228.4L280.4,226.9L278.9,225.8L276.6,224.6L274,223.9L271.4,223.7L259.8,223.9L253.3,223.9L248.1,224.2L240.4,225.2L227.5,225L219.7,225.7L217.1,225.7L209.4,223.3L206.8,222.7L204.2,222.6L199.1,223.3L196.5,223.1L195.2,222.4L192.6,220.7Z" fill="#bcbcff"/>
<path d="M192.6,327.9L279.5,327.9L285.6,311.4L287.2,305.9L287.6,303.3L287.7,300.7L287.2,294.3L287.5,285.2L287.2,281.4L286.8,278.8L284.1,267.1L284,264.6L284.4,255.5L284,249.1L283,245.6L281.7,242L280.8,240L278.4,236.1L276.1,233.6L274.2,232.3L272.7,231.5L268.8,230.3L250.7,228.6L248.1,228.8L243,229.9L239.1,230.6L230.1,231.4L223.6,232.8L221,233L218.4,232.8L214.6,232.3L212,231.7L205.5,229.2L200.3,227.9L195.2,225.9L192.6,224.1Z" fill="#aeaeff"/>
<path d="M215.4,326.6L217.3,327.9L273.2,327.9L277.2,318.8L280.9,311.1L282.5,307.2L283.3,304.6L283.9,300.7L283.7,294.3L283.8,287.8L283.7,283.9L283.2,280.1L281.2,272.3L280.4,268.4L279.6,259.4L279.1,256.8L278.5,255.5L276,251.6L274.8,249.1L272,243.9L268.8,239.5L267.5,238.2L266.2,237.2L264.9,236.6L262.3,235.7L252,232.8L250.7,232.7L248.1,233.1L240.4,235.4L238.6,236.1L233.9,238.9L221.5,247.8L218.4,250.3L217.2,251.6L215.4,255.5L213.3,258.1L212,259L208.1,260.8L206.8,261.6L201.6,265.8L200.3,266.3L199.1,266.1L197.8,265.4L195.2,263.1L192.6,260.1L192.6,300.4L195.2,302.9L196.5,304.9L198.1,309.8L199.6,316.2L200.8,318.8L201.6,319.9L203.4,321.4L205.5,322.5L212.7,325.3ZM192.6,242.6L192.6,243L195.7,236.1L196.1,234.9L196.4,232.3L196.4,231L196.1,229.7L195.4,228.4L194.3,227.1L192.6,226.3Z" fill="#a1a1ff"/>
<path d="M223.3,326.6L224.9,327.9L266.7,327.9L270.6,321.4L276.1,311.1L277.9,307.2L279.3,303.3L280,299.4L280.2,291.7L280.1,287.8L279.4,281.4L275.6,262L274.3,258.1L269.9,250.4L267.5,246.6L265.3,243.9L263.6,242.4L262.2,241.3L259.8,240.1L254.6,238.3L250.7,237.6L249.4,237.7L246.8,238.2L244.3,239L241.7,240L239.1,241.5L236.5,243.3L229.3,249.1L225,252.9L219.7,258.9L217.9,260.7L215.8,262.3L210.7,265.8L205.5,270.8L204.2,271.9L202.9,272.7L200.3,273.7L197.8,274.2L192.6,274.6L192.6,290.2L196.5,293.8L198,295.6L199.7,298.1L201.6,302.6L204.2,311.2L206,314.9L208.1,317.4L209.9,318.8L219.4,324Z" fill="#9494ff"/>
<path d="M230.2,326.6L231.4,327.9L259.7,327.9L264.9,321.4L268.4,316.2L272.6,308.5L274.7,303.3L275.4,300.7L276,296.9L276.2,291.7L275.9,286.5L275.4,281.4L274.7,276.2L273.1,268.4L271.8,263.3L270.5,259.4L268.7,255.5L266.5,251.6L264.9,249.4L263.5,247.8L261.1,245.7L258.5,244.2L255.9,243.2L253.3,242.6L250.7,242.3L246.8,242.8L243,244.2L240.4,245.6L237.8,247.3L234.1,250.4L229.8,254.2L221,263.5L214.3,268.4L208.1,276.1L203.9,280.1L202.7,281.4L202,282.6L201.7,283.9L202,286.5L204.9,295.6L207.2,307.2L208,309.8L209.3,312.4L211.3,314.9L214.6,317.4L217.1,318.9L224.9,322.7L227.5,324.3Z" fill="#8686ff"/>
<path d="M235.7,326.6L236.6,327.9L253.4,327.9L254.6,325.6L255.8,324L261.3,318.8L263.4,316.2L264.9,314L267.3,309.8L269.1,305.9L270.5,302L271.2,299.4L271.7,296.9L271.9,293L271.1,277.5L270,271L267.4,262L266,258.1L264.8,255.5L263.6,253.5L262.3,251.8L260.9,250.4L258.5,248.6L257.2,248L254.6,247.2L252,246.9L248.1,247L245.6,247.6L243,248.6L240.4,250.2L238.5,251.6L231.3,258.1L229,260.7L224.9,266.4L222.3,269.3L219.2,272.3L217.1,275L215.8,277.5L214.8,280.1L212,291L210.7,298.1L210.5,303.3L211,307.2L212,309.7L212.7,311.1L214.6,313.2L217.1,315.2L221,317.2L227.5,319.7L230.1,321.2L232.6,323.3Z" fill="#7979ff"/>
<path d="M239.9,326.6L240.4,327.9L249.3,327.9L250.7,323.8L252,321.6L253.5,320.1L258.3,316.2L259.4,314.9L261.2,312.4L263.2,308.5L264.8,304.6L266.2,300.7L266.9,298.1L267.3,295.6L267.5,293L266.8,286.5L267.2,278.8L266.9,274.9L266.4,272.3L264.6,267.1L262.4,259.4L261.3,256.8L259.8,254.5L258.5,253.3L257.2,252.5L255.9,252.1L253.3,251.9L246.8,251.9L244.3,252.7L241.7,254.4L237.8,258.2L234.5,260.7L233.2,262L231.5,264.6L229.5,269.7L227.7,273.6L224.2,278.8L223.6,280.1L223.4,281.4L223.6,283.9L223.6,285.2L222.8,287.8L222.1,289.1L219.1,293L217.5,295.6L216.2,298.1L215,302L214.6,304.6L214.9,307.2L215.8,309.3L217.2,311.1L218.8,312.4L221,313.7L223.6,314.7L228.8,316.2L231.3,317.6L233.9,319.7L236.5,322.3L239.1,325.3Z" fill="#6b6bff"/>
<path d="M242.4,326.6L243.3,327.9L246.2,327.9L246.8,327.1L248.4,321.4L249,320.1L250.7,318L255.3,313.6L256.3,312.4L257.8,309.8L260.4,303.3L262.5,295.6L262.8,293L262.6,286.5L263,278.8L262.8,276.2L262.3,273.9L258.5,263.8L257.2,261.1L255.8,259.4L254.6,258.8L253.3,258.6L248.1,258.4L246.8,258.6L245.6,259L244.3,259.8L238.1,264.6L236.9,265.9L236.1,267.1L232.8,274.9L230.3,280.1L228.5,285.2L227,289.1L226.2,290.8L221.8,298.1L220.7,300.7L219.9,303.3L219.7,304.6L219.8,305.9L220.2,307.2L221.1,308.5L222.6,309.8L223.6,310.4L230.1,313L233.9,315.6L237.3,318.8L239.6,321.4L241.3,324Z" fill="#5e5eff"/>
<path d="M242.5,318.8L243,319.1L244.3,319.3L245.6,318.5L250.2,313.6L252,311.4L253,309.8L254.7,305.9L256.6,298.1L257.9,294.3L258.5,291.7L258.8,287.8L258.8,281.4L258.2,277.5L257.4,274.9L255.9,271.8L254.6,269.9L253.3,268.6L252,267.6L250.7,267L249.4,266.7L246.8,266.9L244.3,267.8L243,268.6L240.4,270.9L237.8,274.3L233.9,280.9L229.5,290.4L227,296.9L226,300.7L226,303.3L226.3,304.6L226.9,305.9L228,307.2L233.9,311.8L240.4,317.4Z" fill="#5151ff"/>
<path d="M242.9,313.6L244.3,313.3L245.6,312.4L246.9,311.1L248.7,308.5L249.4,306.9L250.2,304.6L252,296.9L254,293L254.7,290.4L254.9,287.8L254.7,285.2L254.3,282.6L253.5,280.1L252.1,277.5L250.8,276.2L249.4,275.3L248.1,274.9L246.8,274.8L245.6,274.9L244.3,275.4L241.7,277L239.1,279.6L236.5,283.4L232.6,290.1L231.4,293L231,295.6L230.7,298.1L230.8,300.7L231.3,302.8L232.2,304.6L234.3,307.2L239.1,311.6L241.7,313.4Z" fill="#4343ff"/>
</g>
<g clip-path="url(#clip_d)" fill="none">
<path d="M193.60,266.50H313.80" stroke="#33333b" stroke-width="1.2" stroke-dasharray="10.1 6.35" stroke-dashoffset="-0.30"/>
<path d="M253.95,326.40V206.40" stroke="#33333b" stroke-width="1.2" stroke-dasharray="10.1 6.35" stroke-dashoffset="0.40"/>
<path d="M266.60,266.50A12.65,12.65 0 1 0 241.30,266.50A12.65,12.65 0 1 0 266.60,266.50" stroke="#111" stroke-width="0.9" stroke-dasharray="10 6"/>
<path d="M218.5,327.9L216.8,326.6L214.6,325.3L205.5,321.4L203.5,320.1L202.3,318.8L201.4,317.5L200.8,316.2L199.1,309.5L197.8,305.4L196.8,303.3L195.2,301.1L193.9,299.9L192.6,298.9" stroke="#111" stroke-width="0.9" stroke-linejoin="round"/>
<path d="M192.6,263.1L195.6,265.9L197.8,267.3L199.1,267.9L200.3,268L201.6,267.4L202.9,266.5L206.4,263.3L208.1,262L213.2,259.4L214.6,258.2L216.7,255.5L218.4,252.2L220.4,250.4" stroke="#111" stroke-width="0.9" stroke-linejoin="round"/>
<path d="M239.8,236.4L240.4,236.1L248.1,233.8L250.7,233.3L252,233.5L262.3,236.5L264.9,237.6L266.6,238.7L267.9,240L271.4,244.7L274.5,250.4L275.3,252.2L277.6,255.5L278.3,256.8L279,259.4L280.1,269.7L282.6,280.1L283.2,285.2L283.4,300.7L282.7,304.6L281.8,307.2L280.4,310.7L276.4,318.8L274,324.5L272.3,327.9" stroke="#111" stroke-width="0.9" stroke-linejoin="round"/>
<path d="M192.6,226.6L193.9,227.1L195,228.4L195.5,229.7L195.7,231L195.3,233.6L194.9,234.9L192.6,239.8" stroke="#111" stroke-width="0.9" stroke-linejoin="round"/>
<path d="M241.6,327.9L240.5,325.3L239.1,323.3L235.2,319.1L232.6,316.8L230.1,315.1L228.8,314.6L223.6,313.1L221.9,312.4L219.8,311.1L218.4,309.9L217.4,308.5L216.8,307.2L216.5,305.9L216.6,304.6L216.7,304" stroke="#111" stroke-width="0.9" stroke-linejoin="round"/>
<path d="M226.7,282.5L226.9,281.4L227.3,280.1L227.9,278.8L230.1,274.7L232,269.7L233.3,265.9L233.8,264.6L234.6,263.3L235.2,262.7L239.1,260L243,256.2L244.3,255.2L245.6,254.5L246.8,254.2L250.7,254.8L254.6,254.2L255.9,254.3L257.2,254.9L258.5,256L259.8,258L262.6,267.1L264.9,273.6L265.3,276.2L265.5,280.1L264.8,286.5L264.9,287.8L265.5,291.7L265.5,294.3L264.8,298.1L263.7,302L261.7,307.2L259.9,311.1L258.5,313.4L257.2,314.9L252,319.4L250.7,320.8L249.4,323.4L248,327.9" stroke="#111" stroke-width="0.9" stroke-linejoin="round"/>
</g>
<path d="M253.95,266.80V247.47" stroke="#000" stroke-width="1.5" fill="none"/>
<path d="M253.95,242.16L257.05,251.37L253.95,250.06L250.85,251.37Z" fill="#000"/>
<rect x="193.60" y="206.40" width="120.20" height="120.00" fill="none" stroke="#8f8f8f" stroke-width="0.80"/>
<text x="203.35" y="338.30" font-size="9.00" text-anchor="middle">−4</text>
<text x="188.80" y="320.10" font-size="9.00" text-anchor="end">−4</text>
<text x="228.65" y="338.30" font-size="9.00" text-anchor="middle">−2</text>
<text x="188.80" y="294.80" font-size="9.00" text-anchor="end">−2</text>
<text x="253.95" y="338.30" font-size="9.00" text-anchor="middle">0</text>
<text x="188.80" y="269.50" font-size="9.00" text-anchor="end">0</text>
<text x="279.25" y="338.30" font-size="9.00" text-anchor="middle">2</text>
<text x="188.80" y="244.20" font-size="9.00" text-anchor="end">2</text>
<text x="304.55" y="338.30" font-size="9.00" text-anchor="middle">4</text>
<text x="188.80" y="218.90" font-size="9.00" text-anchor="end">4</text>
<path d="M203.35,326.40v-1.8M193.60,317.40h1.8M228.65,326.40v-1.8M193.60,292.10h1.8M253.95,326.40v-1.8M193.60,266.80h1.8M279.25,326.40v-1.8M193.60,241.50h1.8M304.55,326.40v-1.8M193.60,216.20h1.8" stroke="#444" stroke-width="0.8" fill="none"/>
<text x="224.40" y="202.00" font-size="10.70" textLength="58.30" lengthAdjust="spacingAndGlyphs">Satellite, SH</text>
<text x="179.30" y="201.60" font-size="15.8" font-weight="bold" fill="#000" stroke="#000" stroke-width="0.5">d</text>
</g>
<g id="panel-e">
<clipPath id="clip_e"><rect x="367.5" y="39.5" width="121.0" height="120.2"/></clipPath>
<g clip-path="url(#clip_e)">
<rect x="367.5" y="39.5" width="121.0" height="120.2" fill="#f7f7f7"/>
<path d="M366.6,161L489.4,161L489.4,38.2L374.2,38.2L369.2,39.9L366.6,40.2Z" fill="#eff6e5"/>
<path d="M382.2,161L489.4,161L489.4,50.8L487.3,49.9L482.9,47.2L481.4,46L480.1,43.4L479,40L478,38.2L408.1,38.2L407.4,40.8L406.6,46L405.9,48.6L404.8,51.2L402.8,54.5L400.2,57.9L394,64.1L388.6,70.5L387.3,71.7L386,72.2L384.7,72.2L383.4,71.9L382.1,71.2L380.9,70L378.3,66.9L374.5,64.1L373.7,62.8L373.4,58.9L373,57.6L371.6,55L370.5,54.1L369.2,53.4L367.9,53.4L366.6,53.7L366.6,114.6L371.1,118.3L372.3,119.6L373.1,120.9L373.3,122.2L373,127.4L373.2,130L373.7,132.5L375.9,139L378.3,147.6L381.9,157.1L382.2,158.4Z" fill="#e7f5d3"/>
<path d="M391.2,161L489.4,161L489.4,56.8L488.9,56.3L481.6,51.9L475.1,49.6L473.9,49.3L472.6,49.3L466.1,50.5L459.6,50.6L454.5,51.1L441.6,50.5L435.1,49.4L432.5,49.1L427.4,49.3L424.8,49.7L422.2,50.7L419.6,52.2L417,54.6L413.7,58.9L409.3,66.3L406.7,70L404.9,71.8L400.2,75.5L398.9,76.8L397.3,80.9L396.4,82.2L382.1,96.2L380.9,97.8L379.6,100.2L379.2,102.8L379,105.4L379.1,113.2L378.8,115.7L379.3,119.6L379.4,123.5L380.4,124.8L380.9,125.9L382.3,132.5L383.4,135.5L386,141.4L388.6,145.5L390.4,149.3L391.1,151.9L391.3,153.2Z" fill="#d4edb3"/>
<path d="M398.5,161L482.3,161L484.1,158.4L489.4,151.8L489.4,74.6L484.2,68L481.6,65.2L480.3,64L477.7,62.5L472.6,60.6L470,59.9L466.1,59.3L454.5,58.8L448,59.3L444.1,59.5L432.5,58.8L428.6,58.9L426.1,59.5L423.5,60.5L420.9,62.2L419,64.1L416.3,68L413.1,74.4L412.3,75.7L406.4,82.2L401.2,88.6L399.1,92.5L397.9,96.4L396.1,105.4L395.5,113.2L395,115.7L395,117L396,122.2L395.9,123.5L394,127.4L393.6,130L393.6,131.2L394.1,133.8L396.4,140.2L397.7,146.7L398.1,150.6Z" fill="#bee490"/>
<path d="M404.1,161L468.8,161L470.2,155.8L471.7,153.2L473.2,151.9L479.1,148L481.6,145.5L483.5,142.9L485,140.3L486.2,137.7L487.1,135.1L487.9,131.2L488.1,128.7L488.1,124.8L487.6,120.9L486.2,113.2L485.6,100.2L485.9,97.7L487.4,89.9L487.6,87.3L487.5,86L486.8,83.5L485.3,80.9L483.2,78.3L480.3,75.4L476.4,72.4L472.6,70.5L470,69.6L464.8,68.2L460.9,67.4L458.4,67.1L453.2,66.9L442.9,67.4L433.8,66.4L429.9,66.5L427.4,67L424.8,67.9L423.5,68.6L421.4,70.5L420.4,71.8L417.9,75.7L414.7,79.6L411.9,83.5L406.9,91.2L404.9,95.1L403.8,99L403.3,102.8L403,113.2L402.6,115.7L402.6,117L403.7,122.2L403.5,123.5L403,124.8L401.5,127.4L401,128.7L400.8,131.2L401.1,133.8L403,141.6L403.5,144.2L403.7,148L403.7,158.4Z" fill="#a5d56f"/>
<path d="M412.9,161L459.5,161L460.6,158.4L461.7,153.2L462.4,151.9L464.8,149L470.5,144.2L475.1,139L476.9,136.4L478.4,133.8L479.5,131.2L480.2,128.7L480.8,124.8L480.8,120.9L480.6,117L479.4,106.7L479.2,99L478.3,89.9L478.4,88.6L479,86L478.7,84.7L477.7,83.5L476.4,82.2L472.6,79.6L470,78.2L466.1,76.7L460.9,75.4L457.1,74.7L453.2,74.3L439,73.2L432.5,73L428.6,73.3L426.1,74.2L424.8,74.9L423.5,76.2L421.5,79.6L420.9,80.2L418.3,81.3L417,82.6L415.7,84.7L413.1,89.9L410.9,95.1L409.5,99L409.1,101.5L408.7,114.5L408.9,117L409.9,122.2L409.9,123.5L409.4,124.8L407.9,127.4L407.4,128.7L407.2,130L407.2,131.2L407.7,133.8L409.8,140.3L410.3,142.9L411.3,150.6L411.6,157.1L411.9,158.4Z" fill="#8ac34f"/>
<path d="M425.8,155.8L428.6,156.3L432.5,156L436.4,155.1L441.6,153.1L442.9,152.9L448,152.9L450.6,152.2L451.9,151.4L453.2,150L463.3,137.7L468.7,132.9L471.3,129.9L472,128.7L473,126.1L473.5,123.5L473.6,120.9L472.5,111.9L470.7,99L470,92.5L469.7,91.2L469.1,89.9L467.6,88.6L466.1,88L463.5,87.3L458.4,85.4L455.9,84.7L453.2,83L450.1,82.2L440.3,80.2L439,80.2L436.4,81.1L432.5,84L431.2,84.7L429.9,84.5L428.9,82.2L427.8,80.9L427.4,80.6L426.1,80.4L424.8,80.7L423.5,81.6L421.4,83.5L420.3,84.7L419.6,86L417,92.5L416.2,96.4L415.5,108L414.9,113.2L414.3,115.7L414.2,117L415.9,122.2L416.1,123.5L415.9,124.8L414.5,128.7L414.4,131.2L414.8,133.8L416.5,139L417.8,144.2L419.6,149.3L420.9,151.8L422.2,153.5L423.5,154.7Z" fill="#71b038"/>
<path d="M428.3,145.5L429.9,146.2L431.2,146.5L432.5,146.4L435.1,145.6L440.3,142.9L450.6,136.7L457.1,131.9L459.6,129.8L462.1,127.4L463.9,124.8L464.8,122.9L465.4,120.9L465.6,118.3L465.3,114.5L463.4,102.8L463,101.5L462.2,100L460.9,98.6L458.4,96.9L449.3,92.9L444.1,90.1L441.6,89.2L440.3,89.1L437.7,89.5L436.4,90L432.5,92L431.2,92.4L429.9,92.6L428.6,92.3L426.1,90.4L424.8,89.7L423.5,90.9L422.7,92.5L422.4,93.8L422.1,96.4L422.2,99.1L423.5,100.1L424.8,100L427.4,98.6L428.6,98.8L429.6,100.2L429.5,101.5L428.1,104.1L427.8,105.4L427.7,108L428.7,111.9L428.3,113.2L427.4,113.4L423.5,113.2L422.2,113.4L420.9,114.6L420.6,115.7L420.5,117L421.7,123.5L421.7,124.8L420.9,128.7L420.9,130L421.2,132.5L422.2,136.9L423.5,140.2L424.8,142.1L426.1,143.6Z" fill="#5a9d29"/>
<path d="M430.5,128.7L431.2,129.2L432.5,129.7L433.8,129.7L435.1,129.4L439,127.1L442.9,126.6L446.7,126.5L448,126.3L449.3,125.8L450.9,124.8L452.1,123.5L452.7,122.2L452.9,120.9L452.8,119.6L452.1,115.7L450.1,113.2L449.8,111.9L450.1,109.3L450.1,108L449.3,105.8L448,104.2L446.7,103.3L444.1,102.4L440.3,99.9L439,99.6L437.7,99.6L436.4,100L435.1,101L434.7,101.5L432.5,108.9L432.3,113.2L431.9,114.5L430.9,115.7L428.6,117.4L427.9,118.3L427.4,119.6L427.3,122.2L427.9,124.8L428.6,126.5L429.9,128.2Z" fill="#45881f"/>
</g>
<g clip-path="url(#clip_e)" fill="none">
<path d="M367.50,99.60H488.50" stroke="#33333b" stroke-width="1.2" stroke-dasharray="10.1 6.35" stroke-dashoffset="-0.30"/>
<path d="M428.00,159.70V39.50" stroke="#33333b" stroke-width="1.2" stroke-dasharray="10.1 6.35" stroke-dashoffset="0.40"/>
<path d="M440.65,99.60A12.65,12.65 0 1 0 415.35,99.60A12.65,12.65 0 1 0 440.65,99.60" stroke="#111" stroke-width="0.9" stroke-dasharray="10 6"/>
</g>
<path d="M428.00,99.90V80.56" stroke="#000" stroke-width="1.5" fill="none"/>
<path d="M428.00,75.27L431.10,84.47L428.00,83.16L424.90,84.47Z" fill="#000"/>
<rect x="367.50" y="39.50" width="121.00" height="120.20" fill="none" stroke="#8f8f8f" stroke-width="0.80"/>
<text x="377.40" y="172.50" font-size="9.00" text-anchor="middle">−4</text>
<text x="362.70" y="153.20" font-size="9.00" text-anchor="end">−4</text>
<text x="402.70" y="172.50" font-size="9.00" text-anchor="middle">−2</text>
<text x="362.70" y="127.90" font-size="9.00" text-anchor="end">−2</text>
<text x="428.00" y="172.50" font-size="9.00" text-anchor="middle">0</text>
<text x="362.70" y="102.60" font-size="9.00" text-anchor="end">0</text>
<text x="453.30" y="172.50" font-size="9.00" text-anchor="middle">2</text>
<text x="362.70" y="77.30" font-size="9.00" text-anchor="end">2</text>
<text x="478.60" y="172.50" font-size="9.00" text-anchor="middle">4</text>
<text x="362.70" y="52.00" font-size="9.00" text-anchor="end">4</text>
<path d="M377.40,159.70v-1.8M367.50,150.50h1.8M402.70,159.70v-1.8M367.50,125.20h1.8M428.00,159.70v-1.8M367.50,99.90h1.8M453.30,159.70v-1.8M367.50,74.60h1.8M478.60,159.70v-1.8M367.50,49.30h1.8" stroke="#444" stroke-width="0.8" fill="none"/>
<text x="386.90" y="30.10" font-size="10.70" textLength="82.00" lengthAdjust="spacingAndGlyphs">Satellite bias, NH</text>
<text x="353.00" y="29.80" font-size="15.8" font-weight="bold" fill="#000" stroke="#000" stroke-width="0.5">e</text>
</g>
<g id="panel-f">
<clipPath id="clip_f"><rect x="367.5" y="206.4" width="121.0" height="120.0"/></clipPath>
<g clip-path="url(#clip_f)">
<rect x="367.5" y="206.4" width="121.0" height="120.0" fill="#faedf3"/>
<path d="M366.6,327.9L489.4,327.9L489.4,251.6L486.8,246.9L486.2,245.2L486.3,241.3L485.7,236.1L485.5,232.3L485.8,229.7L486.5,228.4L487.9,227.1L489.4,226.2L489.4,205.1L366.6,205.1Z" fill="#f7f7f7"/>
<path d="M368.7,326.6L369.4,327.9L483.2,327.9L482.9,325.3L482,321.4L481.9,318.8L482.9,316.2L487.6,308.5L489.4,305.2L489.4,265.5L485.5,254.9L482.8,245.2L482.4,242.6L482.2,236.1L481.8,233.6L481.7,231L482,229.7L482.5,228.4L484.2,225.2L485.5,223.8L489.4,221L489.4,205.1L366.6,205.1L366.6,321.1L367.6,324Z" fill="#eff6e5"/>
<path d="M373,326.6L374.7,327.9L468,327.9L468.4,321.4L469.3,317.5L470,316.1L471.5,313.6L478,304.6L479.5,302L481,298.1L482,294.3L482.7,289.1L483,283.9L482.9,278.8L482.7,273.6L482.1,268.4L481.7,265.9L480.2,259.4L479.6,255.5L479.2,246.5L475.6,236.1L473.8,227.1L473.4,223.2L473,221.9L472.3,220.6L468.7,216.6L465.5,211.6L464.4,209L463.8,205.1L424.9,205.1L422.2,211.6L420.3,214.2L418.7,215.5L417,216.4L415.7,216.8L413.1,217L411.7,216.8L409.3,215.8L406.7,214L405.6,212.9L404.8,211.6L403.4,207.7L402.8,206.8L401.5,205.7L400.5,205.1L366.6,205.1L366.6,313.9L367.9,316.4L369.7,321.4L370.4,322.7L371.8,325.1Z" fill="#e7f5d3"/>
<path d="M381,326.6L384,327.9L456.5,327.9L457.7,320.1L458.8,314.9L459.6,312L460.9,309L462.2,306.8L466.1,301.9L466.6,300.7L466.8,299.4L466.7,298.1L466.1,296.3L464.8,294.6L463.5,293.8L462.2,293.5L459.6,293.3L458.9,293L457.6,291.7L457,290.4L456.9,289.1L457.2,287.8L458.4,285.9L459.6,285L462.3,283.9L462,282.6L459.6,279.8L458.4,276.9L457.2,272.3L456.9,269.7L457.1,268.4L457.9,267.1L458.3,265.9L458,262L458,252.9L458.4,249.4L460.7,242.6L462,236.1L464.8,230.7L465.4,228.4L465.4,227.1L464.9,225.8L464.1,224.5L457.2,216.8L456.5,215.5L456.2,214.2L456.5,210.3L456.4,209L455.4,205.1L437.1,205.1L435.6,209L434.1,214.2L433.4,215.5L432,216.8L429.9,218L426.1,219.9L418.6,223.2L415.7,224L413.1,224.3L409.3,223.9L406.7,223L404.6,221.9L402.8,220.4L398.9,215.4L396.4,212.9L393.8,211.3L387.3,208.1L382.4,205.1L371.6,205.1L369.2,205.6L366.6,205.5L366.6,309.3L367.9,311.4L371.8,320L372.9,321.4L374.4,322.7L375.7,323.5Z" fill="#d4edb3"/>
<path d="M392,326.6L393.9,327.9L444.1,327.9L444.1,326.6L443.7,325.3L442,322.7L441.5,321.4L440.6,316.2L440.5,314.9L440.9,312.4L442.6,307.2L442.7,305.9L441.6,300.9L441.5,298.1L442,293L442.8,289.1L446.1,282.6L447.4,278.8L447.9,276.2L448,273.6L447.5,267.1L447.6,265.9L449.4,260.7L449.9,258.1L449.9,256.8L449.7,255.5L447.4,247.8L446.9,245.2L446.9,243.9L448,241.7L450.2,238.7L450.2,237.4L449.8,236.1L448,233.6L446.1,229.7L445,228.4L444.1,227.8L442.9,227.5L441.6,227.4L435.1,228.2L428.6,228.7L423.5,228.2L420.9,228.6L415.7,229.8L411.9,229.7L408,229L405.4,228L401.6,225.8L398.6,223.2L393.8,218.3L386,213.4L379.6,208.8L378.3,208.3L377,208.1L366.6,208.1L366.6,304.9L367.9,306.6L369,308.5L370.5,312.8L371.8,315.4L373.1,317.4L374.4,318.8L377,320.5L383.4,323.8L391.2,326.1Z" fill="#bee490"/>
<path d="M405.6,326.6L409.5,327.9L420.5,327.9L423.5,326.5L424.3,325.3L423.9,324L423.9,322.7L424.8,322.2L426.1,321.9L427.4,321.1L428.1,320.1L428.6,318.8L428.7,317.5L428.4,316.2L427.7,314.9L426.1,313.6L423.3,312.4L423.1,311.1L424.8,306.9L427.5,303.3L428.3,302L430.2,296.9L431.3,295.6L435.1,292.7L437.2,290.4L439.7,286.5L442.3,281.4L443.7,277.5L444.5,273.6L444.8,265.9L446.7,258.1L446.8,256.8L446.3,254.2L442.2,246.5L441.7,245.2L441.5,243.9L441.5,241.3L441.2,240L440.5,238.7L439.2,237.4L437.7,236.4L433.8,234.1L429.9,232.5L427.4,232L423.5,232.2L417,233.5L414.4,233.8L409.3,233.6L405.4,232.8L402.8,231.7L400.2,230.2L397.6,228.4L389.9,222.3L384.7,219.3L379.6,215.8L373.1,211.7L369.2,210.4L367.9,210.3L366.6,210.4L366.6,244.4L369.3,245.2L371.6,246.5L373.2,247.8L373.9,249.1L374.9,252.9L376.4,256.8L376.3,258.1L375.9,259.4L374.4,262.4L373.6,264.6L373,268.4L372.2,271L370.5,273.6L366.6,277.9L366.6,298.6L368.4,302L371,305.9L371.5,307.2L372.6,312.4L373.1,313.3L374.4,314.8L376,316.2L379.6,318.4L388.6,322.2L392.5,322.7L393.8,323L397.6,324.9L398.9,325.3L402.8,325.8Z" fill="#a5d56f"/>
<path d="M388.5,313.6L389.9,313.8L392.5,313.4L395.1,312.6L398.9,311.8L404.5,309.8L410.6,308.8L414.4,308.8L415.7,308.6L417,308.2L418.6,307.2L423.5,301.1L424,299.4L424.5,296.9L425.6,294.3L426.7,293L428.3,291.7L432.5,289.3L434.5,287.8L436.5,285.2L438.7,281.4L440.3,277.5L442,271L442.5,264.6L444.3,256.8L444.3,255.5L444,254.2L442.9,252.1L441.6,250.9L439,250.3L437.7,248.8L432.5,240.5L430.9,238.7L428.6,236.9L427.4,236.3L426.4,236.1L423.6,236.1L415.7,237.7L410.6,237.8L405.4,237.3L402.8,236.6L397.1,233.6L386,226L378.3,221.4L370.5,215.3L369.2,214.6L367.9,214.3L366.6,214.2L366.6,239.6L369.2,239.8L374.4,241.6L378.9,242.6L379.6,242.8L381,243.9L382,245.2L382.5,246.5L382.5,247.8L381.6,251.6L381.7,252.9L382.1,253.5L384.7,255.7L385.4,256.8L385.8,258.1L386,259.4L385.9,260.7L385.5,262L384,264.6L378.2,272.3L373.2,277.5L370.6,281.4L370,282.6L369.4,285.2L369.3,287.8L369.6,290.4L370.5,293L371.8,295.3L373.1,297L375.5,299.4L376.4,300.7L377.9,304.6L378.8,308.5L379.6,309.8L380.9,309.5L381.5,308.5L382.1,308L383.4,307.6L384.5,308.5L384.9,311.1L386,312.4L387.3,313.2Z" fill="#8ac34f"/>
<path d="M391.5,303.3L392.5,304.4L393.8,304.4L397.6,302.3L400.2,301.5L404.1,301.1L410.6,301.1L412.9,300.7L414.4,300.2L415.7,299.4L417,298.3L421.3,293L425.7,289.1L428.6,285.8L429.9,285.3L431.2,285.2L432.5,284.1L433.8,282.5L435.9,278.8L437.2,274.9L439.8,268.4L440.6,256.8L440.3,255.7L437.7,255.6L436.4,255.1L435.2,254.2L434.5,252.9L435.1,251.7L435.4,250.4L434.7,249.1L433.8,248.3L431.2,247.9L429.8,246.5L424.8,243.1L423.5,242.6L420.9,242.5L417,243.4L411.9,245.1L410.6,245.2L409.3,244.7L406.7,243.2L405.4,242.8L401.5,242.3L398.9,241.2L392.5,239.6L389.9,238.3L386.4,234.9L384.7,233.6L382.1,232.4L379.6,231.9L377,232.1L376.4,232.3L375.2,233.6L375.7,233.7L376.4,234.9L377,235.2L379.4,237.4L380.9,238.4L381.8,238.7L387.3,239.3L388.6,239.7L389.9,240.4L395,245.2L399.2,247.8L400.2,248.8L400.8,250.4L399.9,254.2L399.5,256.8L399.6,259.4L400.2,265.9L400.3,269.7L399.9,273.6L399.3,274.9L397.6,276.9L395.1,278.8L392.5,280.2L388.2,281.4L386.5,282.6L385.7,283.9L385.6,285.2L386,286.5L388.6,291.1L390.2,299.4L390.9,302ZM366.6,236.1L367.9,237L369.2,237.2L371.7,236.1L373.4,234.9L374.2,233.6L374.1,231L373.8,229.7L372.7,227.1L371.2,224.5L369.2,221.9L367.9,221.2L366.6,221Z" fill="#71b038"/>
<path d="M410.4,289.1L411.9,289.1L413.3,287.8L414.4,287.7L417,288.1L419.6,287.8L422.2,286.9L423.5,286L429.1,280.1L430.2,277.5L431.2,273.6L435.1,268.4L436.3,267.1L436.9,265.9L437.2,264.6L437.3,262L437,260.7L436.4,259.4L435.7,258.1L434.4,256.8L431.5,254.2L427.4,248.4L426.1,247.9L424.8,247.9L423.5,248.2L417,251.7L415.7,252L414.4,251.5L413.1,251.3L411.9,251.7L409.3,253.5L408,254.9L406.7,256.8L406.3,258.1L406.2,259.4L406.5,262L407.2,265.9L407.4,268.4L406.6,271L404.9,274.9L404,280.1L404.2,281.4L405.8,285.2L406.5,286.5L408,288L409.3,288.8Z" fill="#5a9d29"/>
<path d="M413,282.6L414.4,283.1L415.7,283.2L417,283L418.3,282.4L419.6,281.4L420.7,280.1L421.3,278.8L421.7,277.5L421.6,274.9L421.9,273.6L423.5,268.5L427.4,268.3L428.6,268L431.2,266.6L432.5,265.6L433.4,264.6L433.9,263.3L433.9,262L433.6,260.7L432.5,258.5L431.2,257.5L426.1,254.3L424.8,254L423.5,254L419.6,255.3L417.4,256.8L415.9,258.1L414.9,259.4L414.4,260.7L414.1,262L414.2,263.3L414.6,264.6L415.7,267.1L415.7,268.4L414.9,271L414.6,273.6L413.6,274.9L411.9,276.4L411.1,277.5L410.8,278.8L410.9,280.1L411.5,281.4Z" fill="#45881f"/>
</g>
<g clip-path="url(#clip_f)" fill="none">
<path d="M367.50,266.50H488.50" stroke="#33333b" stroke-width="1.2" stroke-dasharray="10.1 6.35" stroke-dashoffset="-0.30"/>
<path d="M428.00,326.40V206.40" stroke="#33333b" stroke-width="1.2" stroke-dasharray="10.1 6.35" stroke-dashoffset="0.40"/>
<path d="M440.65,266.50A12.65,12.65 0 1 0 415.35,266.50A12.65,12.65 0 1 0 440.65,266.50" stroke="#111" stroke-width="0.9" stroke-dasharray="10 6"/>
</g>
<path d="M428.00,266.80V247.47" stroke="#000" stroke-width="1.5" fill="none"/>
<path d="M428.00,242.16L431.10,251.37L428.00,250.06L424.90,251.37Z" fill="#000"/>
<rect x="367.50" y="206.40" width="121.00" height="120.00" fill="none" stroke="#8f8f8f" stroke-width="0.80"/>
<text x="377.40" y="338.30" font-size="9.00" text-anchor="middle">−4</text>
<text x="362.70" y="320.10" font-size="9.00" text-anchor="end">−4</text>
<text x="402.70" y="338.30" font-size="9.00" text-anchor="middle">−2</text>
<text x="362.70" y="294.80" font-size="9.00" text-anchor="end">−2</text>
<text x="428.00" y="338.30" font-size="9.00" text-anchor="middle">0</text>
<text x="362.70" y="269.50" font-size="9.00" text-anchor="end">0</text>
<text x="453.30" y="338.30" font-size="9.00" text-anchor="middle">2</text>
<text x="362.70" y="244.20" font-size="9.00" text-anchor="end">2</text>
<text x="478.60" y="338.30" font-size="9.00" text-anchor="middle">4</text>
<text x="362.70" y="218.90" font-size="9.00" text-anchor="end">4</text>
<path d="M377.40,326.40v-1.8M367.50,317.40h1.8M402.70,326.40v-1.8M367.50,292.10h1.8M428.00,326.40v-1.8M367.50,266.80h1.8M453.30,326.40v-1.8M367.50,241.50h1.8M478.60,326.40v-1.8M367.50,216.20h1.8" stroke="#444" stroke-width="0.8" fill="none"/>
<text x="387.90" y="202.00" font-size="10.70" textLength="80.30" lengthAdjust="spacingAndGlyphs">Satellite bias, SH</text>
<text x="353.00" y="201.60" font-size="15.8" font-weight="bold" fill="#000" stroke="#000" stroke-width="0.5">f</text>
</g>
<text x="76.18" y="117.26" font-size="9.6" text-anchor="middle" transform="rotate(-74.8 76.18 113.91)" fill="#000" stroke="#000" stroke-width="0.12">−0.5</text>
<text x="92.88" y="133.48" font-size="9.6" text-anchor="middle" transform="rotate(-88.7 92.88 130.13)" fill="#000" stroke="#000" stroke-width="0.12">−0.8</text>
<text x="59.49" y="297.42" font-size="9.6" text-anchor="middle" transform="rotate(-60.4 59.49 294.07)" fill="#000" stroke="#000" stroke-width="0.12">−0.5</text>
<text x="222.71" y="116.32" font-size="9.6" text-anchor="middle" transform="rotate(-78.0 222.71 112.97)" fill="#000" stroke="#000" stroke-width="0.12">−0.5</text>
<text x="239.19" y="116.63" font-size="9.6" text-anchor="middle" transform="rotate(-78.0 239.19 113.28)" fill="#000" stroke="#000" stroke-width="0.12">−0.8</text>
<text x="229.85" y="246.42" font-size="9.6" text-anchor="middle" transform="rotate(-35.8 229.85 243.07)" fill="#000" stroke="#000" stroke-width="0.12">−0.5</text>
<text x="221.80" y="296.56" font-size="9.6" text-anchor="middle" transform="rotate(-65.0 221.80 293.21)" fill="#000" stroke="#000" stroke-width="0.12">−0.8</text>
<g id="panel-g"><clipPath id="clip_g"><rect x="549.5" y="39.5" width="121.9" height="120.0"/></clipPath>
<rect x="549.50" y="39.50" width="121.90" height="120.00" fill="#fff"/>
<g clip-path="url(#clip_g)">
<path d="M610.45,159.50V39.50" stroke="#2a2a2a" stroke-width="1.1" stroke-dasharray="10 6.25" stroke-dashoffset="4" fill="none"/>
<path d="M549.5,45.8L552.5,45.6L555.6,46L558.6,45.7L561.7,46.2L564.7,46.1L567.8,45.5L570.8,45.3L573.9,45.1L576.9,45.1L580,45.5L583,46.3L586.1,47.6L589.1,49.4L592.2,51.3L595.2,53.8L598.3,55.7L601.3,59.5L604.4,65.1L607.4,72.5L610.5,87.8L613.5,103.3L616.5,112.3L619.6,117.5L622.6,120.9L625.7,121.5L628.7,121.2L631.8,118.3L634.8,121.4L637.9,121.8L640.9,120.8L644,118.2L647,115.1L650.1,112.4L653.1,110.5L656.2,109.1L659.2,108.4L662.3,107.7L665.3,108L668.4,111.4L671.4,109.4L671.4,120.2L668.4,122L665.3,118.6L662.3,118.2L659.2,118.8L656.2,119.3L653.1,120.5L650.1,122.2L647,124.7L644,127.8L640.9,130.2L637.9,131.2L634.8,130.8L631.8,127.7L628.7,130.6L625.7,130.7L622.6,130.1L619.6,124.6L616.5,117.3L613.5,107.5L610.5,91.3L607.4,75.3L604.4,67.1L601.3,61.5L598.3,57.7L595.2,55.8L592.2,53.3L589.1,51.2L586.1,49.4L583,48.1L580,47.3L576.9,46.9L573.9,46.9L570.8,47.1L567.8,47.3L564.7,47.9L561.7,47.8L558.6,47.3L555.6,47.6L552.5,47.2L549.5,47.4Z" fill="#d55e00" fill-opacity="0.33"/>
<path d="M549.5,46.3L561.7,46.8L573.9,45.1L586.1,48.6L598.3,65.4L610.5,112.1L622.6,141.2L634.8,129.3L647,120.5L659.2,109.8L671.4,110.6L671.4,119L659.2,119.8L647,130.5L634.8,139.3L622.6,151.2L610.5,115.1L598.3,67.4L586.1,50.4L573.9,46.7L561.7,48.2L549.5,47.5Z" fill="#0072b2" fill-opacity="0.33"/>
</g>
<path d="M549.5,46.6L552.5,46.4L555.6,46.8L558.6,46.5L561.7,47L564.7,47L567.8,46.4L570.8,46.2L573.9,46L576.9,46L580,46.4L583,47.2L586.1,48.5L589.1,50.3L592.2,52.3L595.2,54.8L598.3,56.7L601.3,60.5L604.4,66.1L607.4,73.9L610.5,89.6L613.5,105.4L616.5,114.8L619.6,121.1L622.6,125.5L625.7,126.1L628.7,125.9L631.8,123L634.8,126.1L637.9,126.5L640.9,125.5L644,123L647,119.9L650.1,117.3L653.1,115.5L656.2,114.2L659.2,113.6L662.3,112.9L665.3,113.3L668.4,116.7L671.4,114.8" fill="none" stroke="#d55e00" stroke-width="1.9" stroke-linejoin="round"/>
<g fill="#d55e00"><circle cx="549.5" cy="46.6" r="1.85"/><circle cx="552.5" cy="46.4" r="1.85"/><circle cx="555.6" cy="46.8" r="1.85"/><circle cx="558.6" cy="46.5" r="1.85"/><circle cx="561.7" cy="47" r="1.85"/><circle cx="564.7" cy="47" r="1.85"/><circle cx="567.8" cy="46.4" r="1.85"/><circle cx="570.8" cy="46.2" r="1.85"/><circle cx="573.9" cy="46" r="1.85"/><circle cx="576.9" cy="46" r="1.85"/><circle cx="580" cy="46.4" r="1.85"/><circle cx="583" cy="47.2" r="1.85"/><circle cx="586.1" cy="48.5" r="1.85"/><circle cx="589.1" cy="50.3" r="1.85"/><circle cx="592.2" cy="52.3" r="1.85"/><circle cx="595.2" cy="54.8" r="1.85"/><circle cx="598.3" cy="56.7" r="1.85"/><circle cx="601.3" cy="60.5" r="1.85"/><circle cx="604.4" cy="66.1" r="1.85"/><circle cx="607.4" cy="73.9" r="1.85"/><circle cx="610.5" cy="89.6" r="1.85"/><circle cx="613.5" cy="105.4" r="1.85"/><circle cx="616.5" cy="114.8" r="1.85"/><circle cx="619.6" cy="121.1" r="1.85"/><circle cx="622.6" cy="125.5" r="1.85"/><circle cx="625.7" cy="126.1" r="1.85"/><circle cx="628.7" cy="125.9" r="1.85"/><circle cx="631.8" cy="123" r="1.85"/><circle cx="634.8" cy="126.1" r="1.85"/><circle cx="637.9" cy="126.5" r="1.85"/><circle cx="640.9" cy="125.5" r="1.85"/><circle cx="644" cy="123" r="1.85"/><circle cx="647" cy="119.9" r="1.85"/><circle cx="650.1" cy="117.3" r="1.85"/><circle cx="653.1" cy="115.5" r="1.85"/><circle cx="656.2" cy="114.2" r="1.85"/><circle cx="659.2" cy="113.6" r="1.85"/><circle cx="662.3" cy="112.9" r="1.85"/><circle cx="665.3" cy="113.3" r="1.85"/><circle cx="668.4" cy="116.7" r="1.85"/><circle cx="671.4" cy="114.8" r="1.85"/></g>
<path d="M549.5,46.9L561.7,47.5L573.9,45.9L586.1,49.5L598.3,66.4L610.5,113.6L622.6,146.2L634.8,134.3L647,125.5L659.2,114.8L671.4,114.8" fill="none" stroke="#0072b2" stroke-width="1.9" stroke-linejoin="round"/>
<g fill="#0072b2"><path d="M549.5,43.6l3,5.2h-6z"/><path d="M561.7,44.2l3,5.2h-6z"/><path d="M573.9,42.6l3,5.2h-6z"/><path d="M586.1,46.2l3,5.2h-6z"/><path d="M598.3,63.1l3,5.2h-6z"/><path d="M610.5,110.3l3,5.2h-6z"/><path d="M622.6,142.9l3,5.2h-6z"/><path d="M634.8,131l3,5.2h-6z"/><path d="M647,122.2l3,5.2h-6z"/><path d="M659.2,111.5l3,5.2h-6z"/><path d="M671.4,111.5l3,5.2h-6z"/></g>
<rect x="549.50" y="39.50" width="121.90" height="120.00" fill="none" stroke="#8f8f8f" stroke-width="0.80"/>
<text x="561.69" y="172.20" font-size="9.20" text-anchor="middle">−4</text>
<text x="586.07" y="172.20" font-size="9.20" text-anchor="middle">−2</text>
<text x="610.45" y="172.20" font-size="9.20" text-anchor="middle">0</text>
<text x="634.83" y="172.20" font-size="9.20" text-anchor="middle">2</text>
<text x="659.21" y="172.20" font-size="9.20" text-anchor="middle">4</text>
<text x="545.10" y="49.50" font-size="9.20" text-anchor="end">0</text>
<text x="545.10" y="68.37" font-size="9.20" text-anchor="end">−0.3</text>
<text x="545.10" y="87.24" font-size="9.20" text-anchor="end">−0.6</text>
<text x="545.10" y="106.11" font-size="9.20" text-anchor="end">−0.9</text>
<text x="545.10" y="124.98" font-size="9.20" text-anchor="end" textLength="14.80" lengthAdjust="spacingAndGlyphs">−1.2</text>
<text x="545.10" y="143.85" font-size="9.20" text-anchor="end" textLength="14.80" lengthAdjust="spacingAndGlyphs">−1.5</text>
<text x="545.10" y="162.72" font-size="9.20" text-anchor="end" textLength="14.80" lengthAdjust="spacingAndGlyphs">−1.8</text>
<path d="M561.69,159.50v-1.8M586.07,159.50v-1.8M610.45,159.50v-1.8M634.83,159.50v-1.8M659.21,159.50v-1.8M549.50,46.30h1.8M549.50,65.17h1.8M549.50,84.04h1.8M549.50,102.91h1.8M549.50,121.78h1.8M549.50,140.65h1.8" stroke="#444" stroke-width="0.8" fill="none"/>
<text x="558.40" y="30.10" font-size="10.70" textLength="103.80" lengthAdjust="spacingAndGlyphs">Drifter vs satellite, NH</text>
<text x="510.00" y="27.00" font-size="15.8" font-weight="bold" fill="#000" stroke="#000" stroke-width="0.5">g</text>
<text x="518.30" y="139.80" font-size="10.70" textLength="77.80" lengthAdjust="spacingAndGlyphs" transform="rotate(-90.0 518.30 139.80)">SST cooling (°C)</text>
</g>
<g id="panel-h"><clipPath id="clip_h"><rect x="549.5" y="206.4" width="121.9" height="120.0"/></clipPath>
<rect x="549.50" y="206.40" width="121.90" height="120.00" fill="#fff"/>
<g clip-path="url(#clip_h)">
<path d="M610.45,326.40V206.40" stroke="#2a2a2a" stroke-width="1.1" stroke-dasharray="10 6.25" stroke-dashoffset="4" fill="none"/>
<path d="M549.5,210.5L552.5,210.9L555.6,211.4L558.6,211.9L561.7,212.3L564.7,212.3L567.8,212.3L570.8,212.3L573.9,212.3L576.9,213.2L580,214.2L583,215.1L586.1,216L589.1,218.2L592.2,220.5L595.2,222.8L598.3,225L601.3,228.5L604.4,232L607.4,238L610.5,244L613.5,249.4L616.5,254.5L619.6,259L622.6,261L625.7,259.6L628.7,260.9L631.8,262.2L634.8,262.6L637.9,263L640.9,263.4L644,259.5L647,255.3L650.1,249.8L653.1,249.2L656.2,248.1L659.2,245.3L662.3,242.9L665.3,242.4L668.4,229L671.4,213.5L671.4,255.3L668.4,258.4L665.3,261.9L662.3,265.8L659.2,272.8L656.2,275L653.1,277.2L650.1,277.6L647,280.4L644,286.4L640.9,290.4L637.9,290.7L634.8,290.9L631.8,290L628.7,287.4L625.7,285.7L622.6,287.3L619.6,277.4L616.5,269.7L613.5,262L610.5,250.8L607.4,243.6L604.4,236.4L601.3,232.4L598.3,228.4L595.2,225.9L592.2,223.5L589.1,221.1L586.1,218.6L583,217.5L580,216.4L576.9,215.4L573.9,214.3L570.8,214.3L567.8,214.3L564.7,214.3L561.7,214.3L558.6,213.8L555.6,213.2L552.5,212.7L549.5,212.1Z" fill="#d55e00" fill-opacity="0.33"/>
<path d="M549.5,210.2L561.7,211L573.9,213.4L586.1,217.6L598.3,239.6L610.5,272.5L622.6,287.9L634.8,276L647,269L659.2,261.6L671.4,243.8L671.4,257.8L659.2,279.1L647,287.3L634.8,296.7L622.6,310.4L610.5,285.5L598.3,243.4L586.1,219.6L573.9,215L561.7,212.2L549.5,211.4Z" fill="#0072b2" fill-opacity="0.33"/>
</g>
<path d="M549.5,211.3L552.5,212L555.6,210.4L558.6,211L561.7,213.3L564.7,213.5L567.8,212.5L570.8,211.3L573.9,213.3L576.9,213.3L580,213.5L583,215L586.1,217.3L589.1,219.8L592.2,222.1L595.2,224.2L598.3,226.7L601.3,230.9L604.4,234.2L607.4,239.3L610.5,247.4L613.5,257.8L616.5,262.8L619.6,265.9L622.6,273.5L625.7,271.6L628.7,273.5L631.8,276.6L634.8,277.2L637.9,277.6L640.9,277.2L644,272.2L647,269.1L650.1,263.4L653.1,264L656.2,260.9L659.2,257.8L662.3,255.3L665.3,249.9L668.4,244.9L671.4,235.1" fill="none" stroke="#d55e00" stroke-width="1.9" stroke-linejoin="round"/>
<g fill="#d55e00"><circle cx="549.5" cy="211.3" r="1.85"/><circle cx="552.5" cy="212" r="1.85"/><circle cx="555.6" cy="210.4" r="1.85"/><circle cx="558.6" cy="211" r="1.85"/><circle cx="561.7" cy="213.3" r="1.85"/><circle cx="564.7" cy="213.5" r="1.85"/><circle cx="567.8" cy="212.5" r="1.85"/><circle cx="570.8" cy="211.3" r="1.85"/><circle cx="573.9" cy="213.3" r="1.85"/><circle cx="576.9" cy="213.3" r="1.85"/><circle cx="580" cy="213.5" r="1.85"/><circle cx="583" cy="215" r="1.85"/><circle cx="586.1" cy="217.3" r="1.85"/><circle cx="589.1" cy="219.8" r="1.85"/><circle cx="592.2" cy="222.1" r="1.85"/><circle cx="595.2" cy="224.2" r="1.85"/><circle cx="598.3" cy="226.7" r="1.85"/><circle cx="601.3" cy="230.9" r="1.85"/><circle cx="604.4" cy="234.2" r="1.85"/><circle cx="607.4" cy="239.3" r="1.85"/><circle cx="610.5" cy="247.4" r="1.85"/><circle cx="613.5" cy="257.8" r="1.85"/><circle cx="616.5" cy="262.8" r="1.85"/><circle cx="619.6" cy="265.9" r="1.85"/><circle cx="622.6" cy="273.5" r="1.85"/><circle cx="625.7" cy="271.6" r="1.85"/><circle cx="628.7" cy="273.5" r="1.85"/><circle cx="631.8" cy="276.6" r="1.85"/><circle cx="634.8" cy="277.2" r="1.85"/><circle cx="637.9" cy="277.6" r="1.85"/><circle cx="640.9" cy="277.2" r="1.85"/><circle cx="644" cy="272.2" r="1.85"/><circle cx="647" cy="269.1" r="1.85"/><circle cx="650.1" cy="263.4" r="1.85"/><circle cx="653.1" cy="264" r="1.85"/><circle cx="656.2" cy="260.9" r="1.85"/><circle cx="659.2" cy="257.8" r="1.85"/><circle cx="662.3" cy="255.3" r="1.85"/><circle cx="665.3" cy="249.9" r="1.85"/><circle cx="668.4" cy="244.9" r="1.85"/><circle cx="671.4" cy="235.1" r="1.85"/></g>
<path d="M549.5,210.8L561.7,211.6L573.9,214.2L586.1,218.6L598.3,241.2L610.5,278.5L622.6,298.9L634.8,286L647,276.6L659.2,266.6L671.4,246.8" fill="none" stroke="#0072b2" stroke-width="1.9" stroke-linejoin="round"/>
<g fill="#0072b2"><path d="M549.5,207.5l3,5.2h-6z"/><path d="M561.7,208.3l3,5.2h-6z"/><path d="M573.9,210.9l3,5.2h-6z"/><path d="M586.1,215.3l3,5.2h-6z"/><path d="M598.3,237.9l3,5.2h-6z"/><path d="M610.5,275.2l3,5.2h-6z"/><path d="M622.6,295.6l3,5.2h-6z"/><path d="M634.8,282.7l3,5.2h-6z"/><path d="M647,273.3l3,5.2h-6z"/><path d="M659.2,263.3l3,5.2h-6z"/><path d="M671.4,243.5l3,5.2h-6z"/></g>
<rect x="549.50" y="206.40" width="121.90" height="120.00" fill="none" stroke="#8f8f8f" stroke-width="0.80"/>
<text x="561.69" y="338.10" font-size="9.20" text-anchor="middle">−4</text>
<text x="586.07" y="338.10" font-size="9.20" text-anchor="middle">−2</text>
<text x="610.45" y="338.10" font-size="9.20" text-anchor="middle">0</text>
<text x="634.83" y="338.10" font-size="9.20" text-anchor="middle">2</text>
<text x="659.21" y="338.10" font-size="9.20" text-anchor="middle">4</text>
<text x="545.10" y="216.40" font-size="9.20" text-anchor="end">0</text>
<text x="545.10" y="235.27" font-size="9.20" text-anchor="end">−0.3</text>
<text x="545.10" y="254.14" font-size="9.20" text-anchor="end">−0.6</text>
<text x="545.10" y="273.01" font-size="9.20" text-anchor="end">−0.9</text>
<text x="545.10" y="291.88" font-size="9.20" text-anchor="end" textLength="14.80" lengthAdjust="spacingAndGlyphs">−1.2</text>
<text x="545.10" y="310.75" font-size="9.20" text-anchor="end" textLength="14.80" lengthAdjust="spacingAndGlyphs">−1.5</text>
<text x="545.10" y="329.62" font-size="9.20" text-anchor="end" textLength="14.80" lengthAdjust="spacingAndGlyphs">−1.8</text>
<path d="M561.69,326.40v-1.8M586.07,326.40v-1.8M610.45,326.40v-1.8M634.83,326.40v-1.8M659.21,326.40v-1.8M549.50,213.20h1.8M549.50,232.07h1.8M549.50,250.94h1.8M549.50,269.81h1.8M549.50,288.68h1.8M549.50,307.55h1.8" stroke="#444" stroke-width="0.8" fill="none"/>
<text x="558.60" y="202.00" font-size="10.70" textLength="102.80" lengthAdjust="spacingAndGlyphs">Drifter vs satellite, SH</text>
<text x="509.00" y="201.60" font-size="15.8" font-weight="bold" fill="#000" stroke="#000" stroke-width="0.5">h</text>
<text x="518.30" y="306.80" font-size="10.70" textLength="77.80" lengthAdjust="spacingAndGlyphs" transform="rotate(-90.0 518.30 306.80)">SST cooling (°C)</text>
<path d="M556.9,304H570.2" stroke="#d55e00" stroke-width="1.9"/><circle cx="563.5" cy="304" r="1.9" fill="#d55e00"/>
<path d="M556.9,314.2H570.2" stroke="#0072b2" stroke-width="1.9"/><path d="M563.5,311l3,5.2h-6z" fill="#0072b2"/>
<text x="574.80" y="307.00" font-size="8.60" textLength="25.40" lengthAdjust="spacingAndGlyphs">Drifter</text>
<text x="574.80" y="317.20" font-size="8.60" textLength="33.70" lengthAdjust="spacingAndGlyphs">Satellite</text>
</g>
<text x="218.20" y="8.50" font-size="10.70" textLength="70.20" lengthAdjust="spacingAndGlyphs">Spatial pattern</text>
<text x="565.00" y="8.50" font-size="10.70" textLength="92.00" lengthAdjust="spacingAndGlyphs">Temporal evolution</text>
<text x="8.80" y="260.10" font-size="10.70" textLength="151.60" lengthAdjust="spacingAndGlyphs" transform="rotate(-90.0 8.80 260.10)">Along-track distance (× 100 km)</text>
<text x="178.50" y="353.60" font-size="10.70" textLength="150.80" lengthAdjust="spacingAndGlyphs">Cross-track distance (× 100 km)</text>
<text x="536.60" y="353.90" font-size="10.70" textLength="147.50" lengthAdjust="spacingAndGlyphs">Time relative to TC passage (d)</text>
<g shape-rendering="crispEdges">
<rect x="32" y="365" width="14" height="8" fill="#0000ff"/>
<rect x="46" y="365" width="15" height="8" fill="#0d0dff"/>
<rect x="61" y="365" width="14" height="8" fill="#1b1bff"/>
<rect x="75" y="365" width="15" height="8" fill="#2828ff"/>
<rect x="90" y="365" width="14" height="8" fill="#3636ff"/>
<rect x="104" y="365" width="15" height="8" fill="#4343ff"/>
<rect x="119" y="365" width="15" height="8" fill="#5151ff"/>
<rect x="134" y="365" width="14" height="8" fill="#5e5eff"/>
<rect x="148" y="365" width="15" height="8" fill="#6b6bff"/>
<rect x="163" y="365" width="14" height="8" fill="#7979ff"/>
<rect x="177" y="365" width="15" height="8" fill="#8686ff"/>
<rect x="192" y="365" width="14" height="8" fill="#9494ff"/>
<rect x="206" y="365" width="15" height="8" fill="#a1a1ff"/>
<rect x="221" y="365" width="15" height="8" fill="#aeaeff"/>
<rect x="236" y="365" width="14" height="8" fill="#bcbcff"/>
<rect x="250" y="365" width="15" height="8" fill="#c9c9ff"/>
<rect x="265" y="365" width="14" height="8" fill="#d7d7ff"/>
<rect x="279" y="365" width="15" height="8" fill="#e4e4ff"/>
<rect x="294" y="365" width="14" height="8" fill="#f2f2ff"/>
<rect x="308" y="365" width="15" height="8" fill="#ffffff"/>
</g>
<rect x="31.60" y="365.20" width="291.30" height="8.20" fill="none" stroke="#8a8a8a" stroke-width="0.7"/>
<text x="31.60" y="384.70" font-size="8.20" text-anchor="middle" textLength="13.60" lengthAdjust="spacingAndGlyphs">−1.4</text>
<text x="73.21" y="384.70" font-size="8.20" text-anchor="middle" textLength="13.60" lengthAdjust="spacingAndGlyphs">−1.2</text>
<text x="114.83" y="384.70" font-size="8.20" text-anchor="middle" textLength="13.60" lengthAdjust="spacingAndGlyphs">−1.0</text>
<text x="156.44" y="384.70" font-size="8.20" text-anchor="middle">−0.8</text>
<text x="198.06" y="384.70" font-size="8.20" text-anchor="middle">−0.6</text>
<text x="239.67" y="384.70" font-size="8.20" text-anchor="middle">−0.4</text>
<text x="281.29" y="384.70" font-size="8.20" text-anchor="middle">−0.2</text>
<text x="322.90" y="384.70" font-size="8.20" text-anchor="middle">0</text>
<path d="M31.60,373.40v-1.8M73.21,373.40v-1.8M114.83,373.40v-1.8M156.44,373.40v-1.8M198.06,373.40v-1.8M239.67,373.40v-1.8M281.29,373.40v-1.8M322.90,373.40v-1.8" stroke="#333" stroke-width="0.7" fill="none"/>
<text x="327.70" y="371.00" font-size="10.40" textLength="17.50" lengthAdjust="spacingAndGlyphs">(°C)</text>
<g shape-rendering="crispEdges">
<rect x="367" y="365" width="6" height="8" fill="#45881f"/>
<rect x="373" y="365" width="6" height="8" fill="#5a9d29"/>
<rect x="379" y="365" width="6" height="8" fill="#71b038"/>
<rect x="385" y="365" width="6" height="8" fill="#8ac34f"/>
<rect x="391" y="365" width="6" height="8" fill="#a5d56f"/>
<rect x="397" y="365" width="6" height="8" fill="#bee490"/>
<rect x="403" y="365" width="6" height="8" fill="#d4edb3"/>
<rect x="409" y="365" width="7" height="8" fill="#e7f5d3"/>
<rect x="416" y="365" width="6" height="8" fill="#eff6e5"/>
<rect x="422" y="365" width="6" height="8" fill="#f7f7f7"/>
<rect x="428" y="365" width="6" height="8" fill="#faedf3"/>
<rect x="434" y="365" width="6" height="8" fill="#fde2f0"/>
<rect x="440" y="365" width="6" height="8" fill="#f8d0e7"/>
<rect x="446" y="365" width="6" height="8" fill="#f3bcdd"/>
<rect x="452" y="365" width="6" height="8" fill="#eba1cb"/>
<rect x="458" y="365" width="6" height="8" fill="#e283b7"/>
<rect x="464" y="365" width="6" height="8" fill="#d75ea1"/>
<rect x="470" y="365" width="6" height="8" fill="#cb3289"/>
<rect x="476" y="365" width="6" height="8" fill="#b91574"/>
<rect x="482" y="365" width="6" height="8" fill="#9f095f"/>
</g>
<rect x="367.20" y="365.20" width="120.80" height="8.20" fill="none" stroke="#8a8a8a" stroke-width="0.7"/>
<text x="370.08" y="384.70" font-size="8.20" text-anchor="middle">−0.4</text>
<text x="398.84" y="384.70" font-size="8.20" text-anchor="middle">−0.2</text>
<text x="427.60" y="384.70" font-size="8.20" text-anchor="middle">0</text>
<text x="456.36" y="384.70" font-size="8.20" text-anchor="middle">0.2</text>
<text x="485.12" y="384.70" font-size="8.20" text-anchor="middle">0.4</text>
<path d="M370.08,373.40v-1.8M398.84,373.40v-1.8M427.60,373.40v-1.8M456.36,373.40v-1.8M485.12,373.40v-1.8" stroke="#333" stroke-width="0.7" fill="none"/>
<text x="492.50" y="371.00" font-size="10.40" textLength="18.10" lengthAdjust="spacingAndGlyphs">(°C)</text>
</svg></body></html>
